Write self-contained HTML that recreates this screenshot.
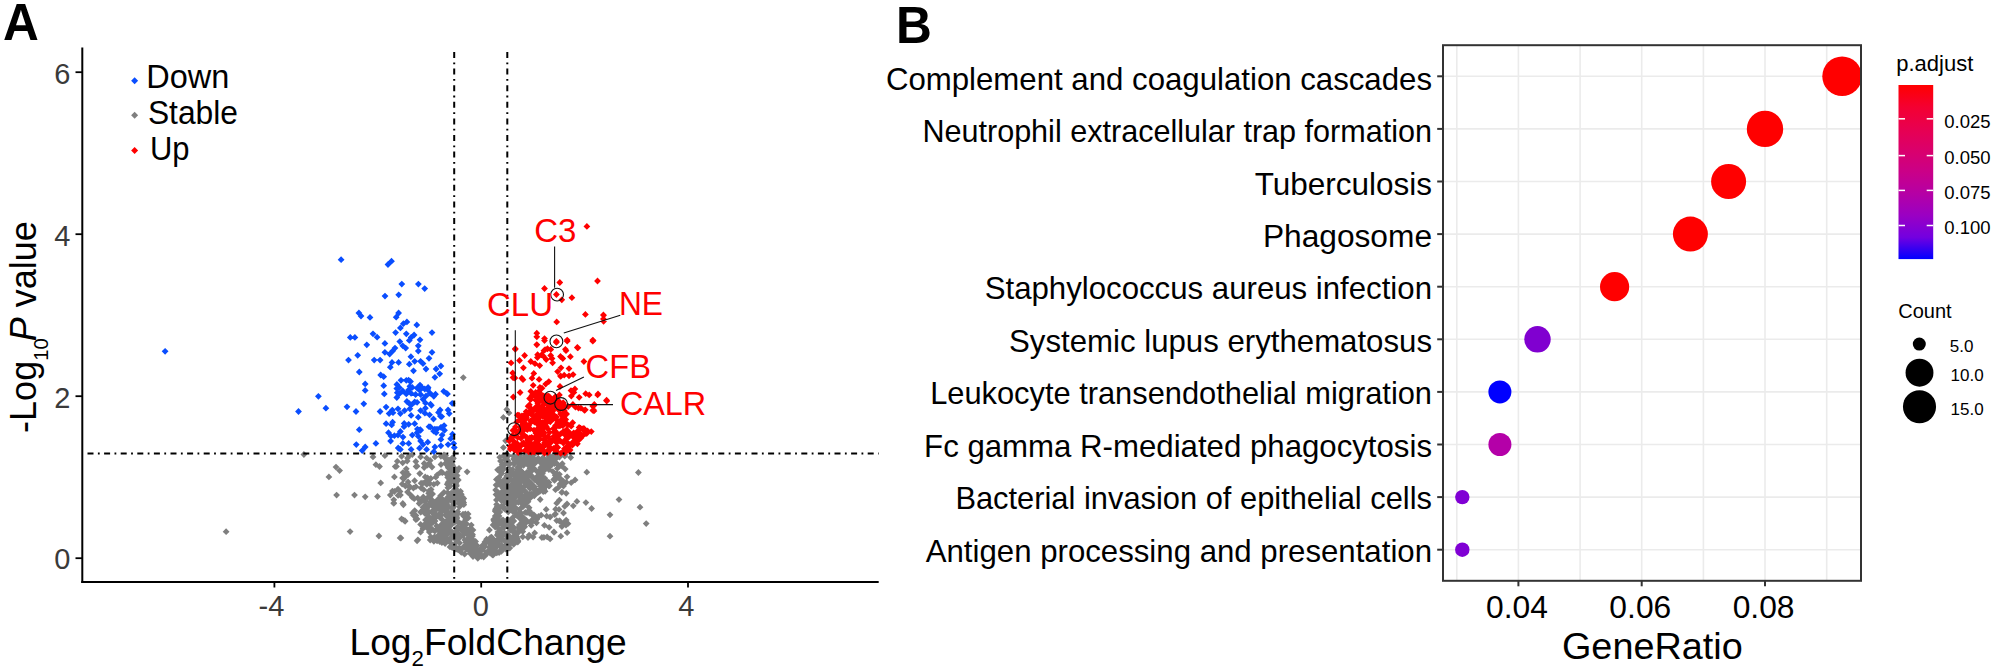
<!DOCTYPE html>
<html><head><meta charset="utf-8"><style>
html,body{margin:0;padding:0;background:#fff;overflow:hidden;}
svg{display:block;}
text{font-family:"Liberation Sans", sans-serif;}
</style></head><body>
<svg width="1996" height="671" viewBox="0 0 1996 671">
<rect width="1996" height="671" fill="#fff"/>
<text transform="translate(3.00,40.00) scale(0.9550,1)" font-size="52" text-anchor="start" fill="#000" font-weight="bold" >A</text>
<text transform="translate(896.00,43.00) scale(0.9550,1)" font-size="52" text-anchor="start" fill="#000" font-weight="bold" >B</text>
<g stroke="#000" fill="none">
<line x1="82.3" y1="47.5" x2="82.3" y2="583" stroke-width="2"/>
<line x1="81.3" y1="582" x2="878.7" y2="582" stroke-width="2"/>
<line x1="75.5" y1="558.2" x2="82" y2="558.2" stroke-width="1.8"/>
<line x1="75.5" y1="396.2" x2="82" y2="396.2" stroke-width="1.8"/>
<line x1="75.5" y1="234.2" x2="82" y2="234.2" stroke-width="1.8"/>
<line x1="75.5" y1="72.2" x2="82" y2="72.2" stroke-width="1.8"/>
<line x1="274.4" y1="582" x2="274.4" y2="587.5" stroke-width="1.8"/>
<line x1="481.2" y1="582" x2="481.2" y2="587.5" stroke-width="1.8"/>
<line x1="688.0" y1="582" x2="688.0" y2="587.5" stroke-width="1.8"/>
</g>
<path d="M226.1 528.3l3.4 3.4l-3.4 3.4l-3.4-3.4zM303.9 451.1l3.4 3.4l-3.4 3.4l-3.4-3.4zM336.0 463.7l3.4 3.4l-3.4 3.4l-3.4-3.4zM339.6 467.2l3.4 3.4l-3.4 3.4l-3.4-3.4zM328.9 473.5l3.4 3.4l-3.4 3.4l-3.4-3.4zM336.6 491.7l3.4 3.4l-3.4 3.4l-3.4-3.4zM354.5 491.7l3.4 3.4l-3.4 3.4l-3.4-3.4zM365.2 493.4l3.4 3.4l-3.4 3.4l-3.4-3.4zM377.5 493.1l3.4 3.4l-3.4 3.4l-3.4-3.4zM373.0 453.5l3.4 3.4l-3.4 3.4l-3.4-3.4zM384.9 452.3l3.4 3.4l-3.4 3.4l-3.4-3.4zM375.9 461.3l3.4 3.4l-3.4 3.4l-3.4-3.4zM379.5 463.1l3.4 3.4l-3.4 3.4l-3.4-3.4zM394.4 473.5l3.4 3.4l-3.4 3.4l-3.4-3.4zM380.7 479.5l3.4 3.4l-3.4 3.4l-3.4-3.4zM407.5 454.7l3.4 3.4l-3.4 3.4l-3.4-3.4zM409.3 452.3l3.4 3.4l-3.4 3.4l-3.4-3.4zM412.3 451.1l3.4 3.4l-3.4 3.4l-3.4-3.4zM417.1 462.8l3.4 3.4l-3.4 3.4l-3.4-3.4zM420.0 470.2l3.4 3.4l-3.4 3.4l-3.4-3.4zM406.3 468.4l3.4 3.4l-3.4 3.4l-3.4-3.4zM405.1 473.8l3.4 3.4l-3.4 3.4l-3.4-3.4zM408.1 478.5l3.4 3.4l-3.4 3.4l-3.4-3.4zM409.9 483.3l3.4 3.4l-3.4 3.4l-3.4-3.4zM407.5 488.7l3.4 3.4l-3.4 3.4l-3.4-3.4zM398.0 485.7l3.4 3.4l-3.4 3.4l-3.4-3.4zM394.4 488.1l3.4 3.4l-3.4 3.4l-3.4-3.4zM400.4 491.7l3.4 3.4l-3.4 3.4l-3.4-3.4zM390.3 491.7l3.4 3.4l-3.4 3.4l-3.4-3.4zM393.8 496.4l3.4 3.4l-3.4 3.4l-3.4-3.4zM393.8 500.0l3.4 3.4l-3.4 3.4l-3.4-3.4zM402.8 500.0l3.4 3.4l-3.4 3.4l-3.4-3.4zM412.3 494.0l3.4 3.4l-3.4 3.4l-3.4-3.4zM417.7 494.6l3.4 3.4l-3.4 3.4l-3.4-3.4zM421.8 497.6l3.4 3.4l-3.4 3.4l-3.4-3.4zM427.8 494.0l3.4 3.4l-3.4 3.4l-3.4-3.4zM432.6 490.5l3.4 3.4l-3.4 3.4l-3.4-3.4zM429.0 487.5l3.4 3.4l-3.4 3.4l-3.4-3.4zM414.7 507.2l3.4 3.4l-3.4 3.4l-3.4-3.4zM413.5 511.9l3.4 3.4l-3.4 3.4l-3.4-3.4zM417.1 515.5l3.4 3.4l-3.4 3.4l-3.4-3.4zM401.6 515.5l3.4 3.4l-3.4 3.4l-3.4-3.4zM405.1 517.9l3.4 3.4l-3.4 3.4l-3.4-3.4zM420.6 453.5l3.4 3.4l-3.4 3.4l-3.4-3.4zM426.6 454.7l3.4 3.4l-3.4 3.4l-3.4-3.4zM430.2 457.1l3.4 3.4l-3.4 3.4l-3.4-3.4zM425.4 461.9l3.4 3.4l-3.4 3.4l-3.4-3.4zM424.2 464.2l3.4 3.4l-3.4 3.4l-3.4-3.4zM415.9 483.3l3.4 3.4l-3.4 3.4l-3.4-3.4zM423.0 479.7l3.4 3.4l-3.4 3.4l-3.4-3.4zM426.6 477.4l3.4 3.4l-3.4 3.4l-3.4-3.4zM430.8 475.0l3.4 3.4l-3.4 3.4l-3.4-3.4zM433.8 480.9l3.4 3.4l-3.4 3.4l-3.4-3.4zM437.3 479.7l3.4 3.4l-3.4 3.4l-3.4-3.4zM437.3 471.4l3.4 3.4l-3.4 3.4l-3.4-3.4zM440.9 469.0l3.4 3.4l-3.4 3.4l-3.4-3.4zM434.9 453.5l3.4 3.4l-3.4 3.4l-3.4-3.4zM440.9 452.9l3.4 3.4l-3.4 3.4l-3.4-3.4zM446.9 457.1l3.4 3.4l-3.4 3.4l-3.4-3.4zM449.2 460.7l3.4 3.4l-3.4 3.4l-3.4-3.4zM350.1 528.2l3.4 3.4l-3.4 3.4l-3.4-3.4zM378.9 532.6l3.4 3.4l-3.4 3.4l-3.4-3.4zM400.1 534.5l3.4 3.4l-3.4 3.4l-3.4-3.4zM417.1 537.4l3.4 3.4l-3.4 3.4l-3.4-3.4zM401.6 515.7l3.4 3.4l-3.4 3.4l-3.4-3.4zM405.1 517.5l3.4 3.4l-3.4 3.4l-3.4-3.4zM414.1 507.9l3.4 3.4l-3.4 3.4l-3.4-3.4zM415.9 512.1l3.4 3.4l-3.4 3.4l-3.4-3.4zM415.9 516.3l3.4 3.4l-3.4 3.4l-3.4-3.4zM420.6 521.0l3.4 3.4l-3.4 3.4l-3.4-3.4zM423.0 525.2l3.4 3.4l-3.4 3.4l-3.4-3.4zM420.6 528.8l3.4 3.4l-3.4 3.4l-3.4-3.4zM393.8 499.6l3.4 3.4l-3.4 3.4l-3.4-3.4zM403.4 501.4l3.4 3.4l-3.4 3.4l-3.4-3.4zM586.8 468.8l3.4 3.4l-3.4 3.4l-3.4-3.4zM567.1 473.4l3.4 3.4l-3.4 3.4l-3.4-3.4zM575.1 476.5l3.4 3.4l-3.4 3.4l-3.4-3.4zM559.0 474.7l3.4 3.4l-3.4 3.4l-3.4-3.4zM561.7 479.2l3.4 3.4l-3.4 3.4l-3.4-3.4zM563.5 482.7l3.4 3.4l-3.4 3.4l-3.4-3.4zM566.2 489.9l3.4 3.4l-3.4 3.4l-3.4-3.4zM561.7 489.0l3.4 3.4l-3.4 3.4l-3.4-3.4zM555.5 486.3l3.4 3.4l-3.4 3.4l-3.4-3.4zM567.1 500.6l3.4 3.4l-3.4 3.4l-3.4-3.4zM573.3 502.4l3.4 3.4l-3.4 3.4l-3.4-3.4zM576.9 498.0l3.4 3.4l-3.4 3.4l-3.4-3.4zM585.9 499.2l3.4 3.4l-3.4 3.4l-3.4-3.4zM591.6 505.1l3.4 3.4l-3.4 3.4l-3.4-3.4zM610.0 511.4l3.4 3.4l-3.4 3.4l-3.4-3.4zM619.0 496.2l3.4 3.4l-3.4 3.4l-3.4-3.4zM559.0 506.0l3.4 3.4l-3.4 3.4l-3.4-3.4zM563.5 509.6l3.4 3.4l-3.4 3.4l-3.4-3.4zM559.9 517.6l3.4 3.4l-3.4 3.4l-3.4-3.4zM566.2 516.7l3.4 3.4l-3.4 3.4l-3.4-3.4zM568.0 520.3l3.4 3.4l-3.4 3.4l-3.4-3.4zM549.2 523.9l3.4 3.4l-3.4 3.4l-3.4-3.4zM550.1 535.5l3.4 3.4l-3.4 3.4l-3.4-3.4zM560.8 532.8l3.4 3.4l-3.4 3.4l-3.4-3.4zM567.1 529.3l3.4 3.4l-3.4 3.4l-3.4-3.4zM610.0 532.8l3.4 3.4l-3.4 3.4l-3.4-3.4zM570.7 454.1l3.4 3.4l-3.4 3.4l-3.4-3.4zM565.3 451.4l3.4 3.4l-3.4 3.4l-3.4-3.4zM467.1 468.4l3.4 3.4l-3.4 3.4l-3.4-3.4zM459.0 464.9l3.4 3.4l-3.4 3.4l-3.4-3.4zM407.2 457.7l3.4 3.4l-3.4 3.4l-3.4-3.4zM416.1 463.1l3.4 3.4l-3.4 3.4l-3.4-3.4zM419.7 470.2l3.4 3.4l-3.4 3.4l-3.4-3.4zM403.6 475.6l3.4 3.4l-3.4 3.4l-3.4-3.4zM405.4 482.7l3.4 3.4l-3.4 3.4l-3.4-3.4zM410.7 491.7l3.4 3.4l-3.4 3.4l-3.4-3.4zM414.3 495.3l3.4 3.4l-3.4 3.4l-3.4-3.4zM423.3 493.5l3.4 3.4l-3.4 3.4l-3.4-3.4zM428.6 489.9l3.4 3.4l-3.4 3.4l-3.4-3.4zM412.5 509.6l3.4 3.4l-3.4 3.4l-3.4-3.4zM416.1 514.9l3.4 3.4l-3.4 3.4l-3.4-3.4zM403.6 516.7l3.4 3.4l-3.4 3.4l-3.4-3.4zM417.9 536.4l3.4 3.4l-3.4 3.4l-3.4-3.4zM400.9 534.6l3.4 3.4l-3.4 3.4l-3.4-3.4zM426.8 481.0l3.4 3.4l-3.4 3.4l-3.4-3.4zM435.8 473.8l3.4 3.4l-3.4 3.4l-3.4-3.4zM441.1 468.4l3.4 3.4l-3.4 3.4l-3.4-3.4zM638.4 469.1l3.4 3.4l-3.4 3.4l-3.4-3.4zM640.0 503.8l3.4 3.4l-3.4 3.4l-3.4-3.4zM646.2 520.2l3.4 3.4l-3.4 3.4l-3.4-3.4zM506.8 406.1l3.4 3.4l-3.4 3.4l-3.4-3.4zM509.0 409.5l3.4 3.4l-3.4 3.4l-3.4-3.4zM503.4 414.0l3.4 3.4l-3.4 3.4l-3.4-3.4zM505.6 437.4l3.4 3.4l-3.4 3.4l-3.4-3.4zM503.4 444.2l3.4 3.4l-3.4 3.4l-3.4-3.4zM463.3 374.2l3.4 3.4l-3.4 3.4l-3.4-3.4zM515.9 458.7l3.4 3.4l-3.4 3.4l-3.4-3.4zM498.7 489.4l3.4 3.4l-3.4 3.4l-3.4-3.4zM427.4 504.2l3.4 3.4l-3.4 3.4l-3.4-3.4zM504.9 492.6l3.4 3.4l-3.4 3.4l-3.4-3.4zM546.9 481.4l3.4 3.4l-3.4 3.4l-3.4-3.4zM464.8 536.5l3.4 3.4l-3.4 3.4l-3.4-3.4zM445.7 511.9l3.4 3.4l-3.4 3.4l-3.4-3.4zM514.1 490.1l3.4 3.4l-3.4 3.4l-3.4-3.4zM500.5 457.7l3.4 3.4l-3.4 3.4l-3.4-3.4zM520.3 495.8l3.4 3.4l-3.4 3.4l-3.4-3.4zM465.6 512.3l3.4 3.4l-3.4 3.4l-3.4-3.4zM455.1 511.2l3.4 3.4l-3.4 3.4l-3.4-3.4zM497.1 542.6l3.4 3.4l-3.4 3.4l-3.4-3.4zM527.6 481.2l3.4 3.4l-3.4 3.4l-3.4-3.4zM441.4 502.2l3.4 3.4l-3.4 3.4l-3.4-3.4zM424.6 521.0l3.4 3.4l-3.4 3.4l-3.4-3.4zM532.9 511.0l3.4 3.4l-3.4 3.4l-3.4-3.4zM522.5 513.3l3.4 3.4l-3.4 3.4l-3.4-3.4zM505.3 498.8l3.4 3.4l-3.4 3.4l-3.4-3.4zM427.8 524.5l3.4 3.4l-3.4 3.4l-3.4-3.4zM541.4 480.9l3.4 3.4l-3.4 3.4l-3.4-3.4zM477.1 542.3l3.4 3.4l-3.4 3.4l-3.4-3.4zM430.7 498.1l3.4 3.4l-3.4 3.4l-3.4-3.4zM500.7 543.5l3.4 3.4l-3.4 3.4l-3.4-3.4zM460.3 494.5l3.4 3.4l-3.4 3.4l-3.4-3.4zM472.3 543.6l3.4 3.4l-3.4 3.4l-3.4-3.4zM453.5 501.8l3.4 3.4l-3.4 3.4l-3.4-3.4zM506.7 478.6l3.4 3.4l-3.4 3.4l-3.4-3.4zM495.7 515.7l3.4 3.4l-3.4 3.4l-3.4-3.4zM519.7 456.7l3.4 3.4l-3.4 3.4l-3.4-3.4zM434.2 517.4l3.4 3.4l-3.4 3.4l-3.4-3.4zM449.9 468.1l3.4 3.4l-3.4 3.4l-3.4-3.4zM510.4 466.6l3.4 3.4l-3.4 3.4l-3.4-3.4zM456.4 487.4l3.4 3.4l-3.4 3.4l-3.4-3.4zM542.4 468.0l3.4 3.4l-3.4 3.4l-3.4-3.4zM497.6 466.4l3.4 3.4l-3.4 3.4l-3.4-3.4zM499.8 453.9l3.4 3.4l-3.4 3.4l-3.4-3.4zM457.7 489.5l3.4 3.4l-3.4 3.4l-3.4-3.4zM443.6 531.8l3.4 3.4l-3.4 3.4l-3.4-3.4zM498.2 532.6l3.4 3.4l-3.4 3.4l-3.4-3.4zM452.6 505.2l3.4 3.4l-3.4 3.4l-3.4-3.4zM457.4 523.5l3.4 3.4l-3.4 3.4l-3.4-3.4zM451.6 474.8l3.4 3.4l-3.4 3.4l-3.4-3.4zM448.1 472.5l3.4 3.4l-3.4 3.4l-3.4-3.4zM516.2 534.7l3.4 3.4l-3.4 3.4l-3.4-3.4zM431.4 520.2l3.4 3.4l-3.4 3.4l-3.4-3.4zM445.4 533.6l3.4 3.4l-3.4 3.4l-3.4-3.4zM468.3 534.9l3.4 3.4l-3.4 3.4l-3.4-3.4zM478.6 550.1l3.4 3.4l-3.4 3.4l-3.4-3.4zM526.9 468.9l3.4 3.4l-3.4 3.4l-3.4-3.4zM440.5 537.6l3.4 3.4l-3.4 3.4l-3.4-3.4zM497.3 548.8l3.4 3.4l-3.4 3.4l-3.4-3.4zM483.5 542.3l3.4 3.4l-3.4 3.4l-3.4-3.4zM542.0 473.2l3.4 3.4l-3.4 3.4l-3.4-3.4zM456.3 481.7l3.4 3.4l-3.4 3.4l-3.4-3.4zM454.6 512.4l3.4 3.4l-3.4 3.4l-3.4-3.4zM457.4 494.9l3.4 3.4l-3.4 3.4l-3.4-3.4zM505.8 545.7l3.4 3.4l-3.4 3.4l-3.4-3.4zM481.5 547.1l3.4 3.4l-3.4 3.4l-3.4-3.4zM444.4 500.6l3.4 3.4l-3.4 3.4l-3.4-3.4zM527.0 509.3l3.4 3.4l-3.4 3.4l-3.4-3.4zM501.6 533.1l3.4 3.4l-3.4 3.4l-3.4-3.4zM434.5 509.7l3.4 3.4l-3.4 3.4l-3.4-3.4zM455.8 480.1l3.4 3.4l-3.4 3.4l-3.4-3.4zM502.6 530.6l3.4 3.4l-3.4 3.4l-3.4-3.4zM510.2 504.0l3.4 3.4l-3.4 3.4l-3.4-3.4zM495.2 523.6l3.4 3.4l-3.4 3.4l-3.4-3.4zM490.1 549.6l3.4 3.4l-3.4 3.4l-3.4-3.4zM544.1 465.4l3.4 3.4l-3.4 3.4l-3.4-3.4zM436.9 497.3l3.4 3.4l-3.4 3.4l-3.4-3.4zM429.6 521.1l3.4 3.4l-3.4 3.4l-3.4-3.4zM441.8 526.0l3.4 3.4l-3.4 3.4l-3.4-3.4zM517.3 466.1l3.4 3.4l-3.4 3.4l-3.4-3.4zM442.8 496.2l3.4 3.4l-3.4 3.4l-3.4-3.4zM495.7 486.6l3.4 3.4l-3.4 3.4l-3.4-3.4zM447.9 484.4l3.4 3.4l-3.4 3.4l-3.4-3.4zM526.5 453.1l3.4 3.4l-3.4 3.4l-3.4-3.4zM501.4 497.2l3.4 3.4l-3.4 3.4l-3.4-3.4zM511.9 504.7l3.4 3.4l-3.4 3.4l-3.4-3.4zM481.7 546.4l3.4 3.4l-3.4 3.4l-3.4-3.4zM541.0 478.2l3.4 3.4l-3.4 3.4l-3.4-3.4zM503.9 524.4l3.4 3.4l-3.4 3.4l-3.4-3.4zM521.4 495.6l3.4 3.4l-3.4 3.4l-3.4-3.4zM513.4 535.0l3.4 3.4l-3.4 3.4l-3.4-3.4zM501.3 548.0l3.4 3.4l-3.4 3.4l-3.4-3.4zM497.4 476.0l3.4 3.4l-3.4 3.4l-3.4-3.4zM532.1 481.4l3.4 3.4l-3.4 3.4l-3.4-3.4zM528.1 508.7l3.4 3.4l-3.4 3.4l-3.4-3.4zM447.0 500.8l3.4 3.4l-3.4 3.4l-3.4-3.4zM492.6 538.4l3.4 3.4l-3.4 3.4l-3.4-3.4zM469.9 538.2l3.4 3.4l-3.4 3.4l-3.4-3.4zM524.2 517.6l3.4 3.4l-3.4 3.4l-3.4-3.4zM429.3 528.6l3.4 3.4l-3.4 3.4l-3.4-3.4zM456.9 468.2l3.4 3.4l-3.4 3.4l-3.4-3.4zM462.5 499.2l3.4 3.4l-3.4 3.4l-3.4-3.4zM442.2 497.7l3.4 3.4l-3.4 3.4l-3.4-3.4zM448.7 503.9l3.4 3.4l-3.4 3.4l-3.4-3.4zM506.1 506.5l3.4 3.4l-3.4 3.4l-3.4-3.4zM530.8 519.9l3.4 3.4l-3.4 3.4l-3.4-3.4zM526.8 518.4l3.4 3.4l-3.4 3.4l-3.4-3.4zM439.5 505.9l3.4 3.4l-3.4 3.4l-3.4-3.4zM494.0 538.4l3.4 3.4l-3.4 3.4l-3.4-3.4zM505.9 544.5l3.4 3.4l-3.4 3.4l-3.4-3.4zM520.7 523.6l3.4 3.4l-3.4 3.4l-3.4-3.4zM453.0 454.4l3.4 3.4l-3.4 3.4l-3.4-3.4zM502.1 516.8l3.4 3.4l-3.4 3.4l-3.4-3.4zM512.2 522.3l3.4 3.4l-3.4 3.4l-3.4-3.4zM517.1 458.0l3.4 3.4l-3.4 3.4l-3.4-3.4zM528.7 477.5l3.4 3.4l-3.4 3.4l-3.4-3.4zM527.6 472.6l3.4 3.4l-3.4 3.4l-3.4-3.4zM533.2 515.6l3.4 3.4l-3.4 3.4l-3.4-3.4zM514.7 459.2l3.4 3.4l-3.4 3.4l-3.4-3.4zM529.7 482.9l3.4 3.4l-3.4 3.4l-3.4-3.4zM503.5 452.4l3.4 3.4l-3.4 3.4l-3.4-3.4zM519.0 523.5l3.4 3.4l-3.4 3.4l-3.4-3.4zM519.6 481.5l3.4 3.4l-3.4 3.4l-3.4-3.4zM450.2 511.9l3.4 3.4l-3.4 3.4l-3.4-3.4zM439.9 505.9l3.4 3.4l-3.4 3.4l-3.4-3.4zM465.9 539.0l3.4 3.4l-3.4 3.4l-3.4-3.4zM544.0 463.7l3.4 3.4l-3.4 3.4l-3.4-3.4zM461.3 549.0l3.4 3.4l-3.4 3.4l-3.4-3.4zM455.9 478.9l3.4 3.4l-3.4 3.4l-3.4-3.4zM474.4 551.1l3.4 3.4l-3.4 3.4l-3.4-3.4zM526.1 456.3l3.4 3.4l-3.4 3.4l-3.4-3.4zM528.0 498.3l3.4 3.4l-3.4 3.4l-3.4-3.4zM531.1 518.5l3.4 3.4l-3.4 3.4l-3.4-3.4zM463.2 528.4l3.4 3.4l-3.4 3.4l-3.4-3.4zM516.6 482.6l3.4 3.4l-3.4 3.4l-3.4-3.4zM501.9 492.4l3.4 3.4l-3.4 3.4l-3.4-3.4zM454.4 478.1l3.4 3.4l-3.4 3.4l-3.4-3.4zM503.7 543.9l3.4 3.4l-3.4 3.4l-3.4-3.4zM530.6 494.3l3.4 3.4l-3.4 3.4l-3.4-3.4zM493.9 517.0l3.4 3.4l-3.4 3.4l-3.4-3.4zM549.0 453.4l3.4 3.4l-3.4 3.4l-3.4-3.4zM506.4 451.1l3.4 3.4l-3.4 3.4l-3.4-3.4zM477.2 548.0l3.4 3.4l-3.4 3.4l-3.4-3.4zM496.7 522.4l3.4 3.4l-3.4 3.4l-3.4-3.4zM515.3 531.1l3.4 3.4l-3.4 3.4l-3.4-3.4zM515.1 482.9l3.4 3.4l-3.4 3.4l-3.4-3.4zM513.7 524.2l3.4 3.4l-3.4 3.4l-3.4-3.4zM497.0 512.1l3.4 3.4l-3.4 3.4l-3.4-3.4zM508.4 452.2l3.4 3.4l-3.4 3.4l-3.4-3.4zM463.7 499.3l3.4 3.4l-3.4 3.4l-3.4-3.4zM453.8 476.9l3.4 3.4l-3.4 3.4l-3.4-3.4zM493.1 521.6l3.4 3.4l-3.4 3.4l-3.4-3.4zM452.6 454.7l3.4 3.4l-3.4 3.4l-3.4-3.4zM520.6 471.8l3.4 3.4l-3.4 3.4l-3.4-3.4zM541.1 475.2l3.4 3.4l-3.4 3.4l-3.4-3.4zM451.8 530.6l3.4 3.4l-3.4 3.4l-3.4-3.4zM452.0 494.7l3.4 3.4l-3.4 3.4l-3.4-3.4zM440.6 492.3l3.4 3.4l-3.4 3.4l-3.4-3.4zM530.1 454.4l3.4 3.4l-3.4 3.4l-3.4-3.4zM517.9 490.7l3.4 3.4l-3.4 3.4l-3.4-3.4zM444.0 451.4l3.4 3.4l-3.4 3.4l-3.4-3.4zM460.5 487.9l3.4 3.4l-3.4 3.4l-3.4-3.4zM471.9 537.0l3.4 3.4l-3.4 3.4l-3.4-3.4zM426.1 500.6l3.4 3.4l-3.4 3.4l-3.4-3.4zM474.3 547.3l3.4 3.4l-3.4 3.4l-3.4-3.4zM447.5 489.2l3.4 3.4l-3.4 3.4l-3.4-3.4zM552.6 454.3l3.4 3.4l-3.4 3.4l-3.4-3.4zM533.2 455.4l3.4 3.4l-3.4 3.4l-3.4-3.4zM457.8 526.1l3.4 3.4l-3.4 3.4l-3.4-3.4zM559.5 453.6l3.4 3.4l-3.4 3.4l-3.4-3.4zM453.6 500.8l3.4 3.4l-3.4 3.4l-3.4-3.4zM509.4 485.4l3.4 3.4l-3.4 3.4l-3.4-3.4zM535.5 459.4l3.4 3.4l-3.4 3.4l-3.4-3.4zM448.2 529.9l3.4 3.4l-3.4 3.4l-3.4-3.4zM423.8 508.9l3.4 3.4l-3.4 3.4l-3.4-3.4zM433.1 503.2l3.4 3.4l-3.4 3.4l-3.4-3.4zM524.7 497.9l3.4 3.4l-3.4 3.4l-3.4-3.4zM453.7 494.7l3.4 3.4l-3.4 3.4l-3.4-3.4zM511.3 521.6l3.4 3.4l-3.4 3.4l-3.4-3.4zM517.9 463.8l3.4 3.4l-3.4 3.4l-3.4-3.4zM544.2 481.8l3.4 3.4l-3.4 3.4l-3.4-3.4zM503.3 490.1l3.4 3.4l-3.4 3.4l-3.4-3.4zM528.9 471.9l3.4 3.4l-3.4 3.4l-3.4-3.4zM455.6 476.8l3.4 3.4l-3.4 3.4l-3.4-3.4zM505.0 485.2l3.4 3.4l-3.4 3.4l-3.4-3.4zM477.8 554.9l3.4 3.4l-3.4 3.4l-3.4-3.4zM489.6 536.8l3.4 3.4l-3.4 3.4l-3.4-3.4zM457.5 532.5l3.4 3.4l-3.4 3.4l-3.4-3.4zM507.7 515.9l3.4 3.4l-3.4 3.4l-3.4-3.4zM451.2 489.7l3.4 3.4l-3.4 3.4l-3.4-3.4zM456.8 513.8l3.4 3.4l-3.4 3.4l-3.4-3.4zM516.0 472.4l3.4 3.4l-3.4 3.4l-3.4-3.4zM520.0 470.5l3.4 3.4l-3.4 3.4l-3.4-3.4zM514.1 460.6l3.4 3.4l-3.4 3.4l-3.4-3.4zM443.1 523.8l3.4 3.4l-3.4 3.4l-3.4-3.4zM464.6 550.8l3.4 3.4l-3.4 3.4l-3.4-3.4zM465.3 510.4l3.4 3.4l-3.4 3.4l-3.4-3.4zM527.4 472.4l3.4 3.4l-3.4 3.4l-3.4-3.4zM420.9 508.8l3.4 3.4l-3.4 3.4l-3.4-3.4zM432.0 516.2l3.4 3.4l-3.4 3.4l-3.4-3.4zM496.5 547.9l3.4 3.4l-3.4 3.4l-3.4-3.4zM434.9 502.4l3.4 3.4l-3.4 3.4l-3.4-3.4zM448.2 464.3l3.4 3.4l-3.4 3.4l-3.4-3.4zM541.8 467.9l3.4 3.4l-3.4 3.4l-3.4-3.4zM536.0 474.3l3.4 3.4l-3.4 3.4l-3.4-3.4zM542.5 470.2l3.4 3.4l-3.4 3.4l-3.4-3.4zM451.3 492.9l3.4 3.4l-3.4 3.4l-3.4-3.4zM496.0 491.2l3.4 3.4l-3.4 3.4l-3.4-3.4zM424.8 509.9l3.4 3.4l-3.4 3.4l-3.4-3.4zM531.8 455.1l3.4 3.4l-3.4 3.4l-3.4-3.4zM543.8 463.4l3.4 3.4l-3.4 3.4l-3.4-3.4zM508.2 508.6l3.4 3.4l-3.4 3.4l-3.4-3.4zM512.3 483.1l3.4 3.4l-3.4 3.4l-3.4-3.4zM437.9 496.1l3.4 3.4l-3.4 3.4l-3.4-3.4zM432.4 497.3l3.4 3.4l-3.4 3.4l-3.4-3.4zM513.7 459.7l3.4 3.4l-3.4 3.4l-3.4-3.4zM492.1 551.2l3.4 3.4l-3.4 3.4l-3.4-3.4zM531.6 467.7l3.4 3.4l-3.4 3.4l-3.4-3.4zM540.5 466.1l3.4 3.4l-3.4 3.4l-3.4-3.4zM493.7 547.3l3.4 3.4l-3.4 3.4l-3.4-3.4zM449.8 478.6l3.4 3.4l-3.4 3.4l-3.4-3.4zM443.9 533.2l3.4 3.4l-3.4 3.4l-3.4-3.4zM435.9 506.6l3.4 3.4l-3.4 3.4l-3.4-3.4zM513.7 488.7l3.4 3.4l-3.4 3.4l-3.4-3.4zM505.3 543.4l3.4 3.4l-3.4 3.4l-3.4-3.4zM512.7 492.3l3.4 3.4l-3.4 3.4l-3.4-3.4zM537.8 478.8l3.4 3.4l-3.4 3.4l-3.4-3.4zM472.5 531.1l3.4 3.4l-3.4 3.4l-3.4-3.4zM529.7 456.2l3.4 3.4l-3.4 3.4l-3.4-3.4zM541.1 477.6l3.4 3.4l-3.4 3.4l-3.4-3.4zM506.2 520.5l3.4 3.4l-3.4 3.4l-3.4-3.4zM510.7 496.3l3.4 3.4l-3.4 3.4l-3.4-3.4zM495.2 544.8l3.4 3.4l-3.4 3.4l-3.4-3.4zM516.2 453.4l3.4 3.4l-3.4 3.4l-3.4-3.4zM452.2 512.1l3.4 3.4l-3.4 3.4l-3.4-3.4zM506.7 472.5l3.4 3.4l-3.4 3.4l-3.4-3.4zM511.9 500.8l3.4 3.4l-3.4 3.4l-3.4-3.4zM455.1 466.7l3.4 3.4l-3.4 3.4l-3.4-3.4zM433.0 517.9l3.4 3.4l-3.4 3.4l-3.4-3.4zM502.7 487.7l3.4 3.4l-3.4 3.4l-3.4-3.4zM515.1 497.5l3.4 3.4l-3.4 3.4l-3.4-3.4zM455.8 545.6l3.4 3.4l-3.4 3.4l-3.4-3.4zM425.3 506.7l3.4 3.4l-3.4 3.4l-3.4-3.4zM420.5 508.7l3.4 3.4l-3.4 3.4l-3.4-3.4zM448.5 514.7l3.4 3.4l-3.4 3.4l-3.4-3.4zM494.4 518.2l3.4 3.4l-3.4 3.4l-3.4-3.4zM540.1 469.4l3.4 3.4l-3.4 3.4l-3.4-3.4zM452.4 462.1l3.4 3.4l-3.4 3.4l-3.4-3.4zM453.4 455.2l3.4 3.4l-3.4 3.4l-3.4-3.4zM468.8 529.5l3.4 3.4l-3.4 3.4l-3.4-3.4zM525.0 478.9l3.4 3.4l-3.4 3.4l-3.4-3.4zM501.4 496.7l3.4 3.4l-3.4 3.4l-3.4-3.4zM458.3 518.3l3.4 3.4l-3.4 3.4l-3.4-3.4zM550.1 452.7l3.4 3.4l-3.4 3.4l-3.4-3.4zM457.6 475.8l3.4 3.4l-3.4 3.4l-3.4-3.4zM530.1 485.3l3.4 3.4l-3.4 3.4l-3.4-3.4zM512.9 523.6l3.4 3.4l-3.4 3.4l-3.4-3.4zM488.8 538.9l3.4 3.4l-3.4 3.4l-3.4-3.4zM503.9 483.3l3.4 3.4l-3.4 3.4l-3.4-3.4zM450.3 516.2l3.4 3.4l-3.4 3.4l-3.4-3.4zM522.1 517.4l3.4 3.4l-3.4 3.4l-3.4-3.4zM522.8 528.2l3.4 3.4l-3.4 3.4l-3.4-3.4zM428.5 512.9l3.4 3.4l-3.4 3.4l-3.4-3.4zM473.0 536.6l3.4 3.4l-3.4 3.4l-3.4-3.4zM513.4 537.4l3.4 3.4l-3.4 3.4l-3.4-3.4zM513.0 481.2l3.4 3.4l-3.4 3.4l-3.4-3.4zM531.8 472.5l3.4 3.4l-3.4 3.4l-3.4-3.4zM460.9 526.0l3.4 3.4l-3.4 3.4l-3.4-3.4zM470.5 524.8l3.4 3.4l-3.4 3.4l-3.4-3.4zM499.0 473.8l3.4 3.4l-3.4 3.4l-3.4-3.4zM547.4 460.6l3.4 3.4l-3.4 3.4l-3.4-3.4zM541.1 468.9l3.4 3.4l-3.4 3.4l-3.4-3.4zM492.1 534.4l3.4 3.4l-3.4 3.4l-3.4-3.4zM446.2 502.8l3.4 3.4l-3.4 3.4l-3.4-3.4zM470.5 538.1l3.4 3.4l-3.4 3.4l-3.4-3.4zM523.1 503.2l3.4 3.4l-3.4 3.4l-3.4-3.4zM435.1 517.7l3.4 3.4l-3.4 3.4l-3.4-3.4zM430.8 533.5l3.4 3.4l-3.4 3.4l-3.4-3.4zM522.8 533.4l3.4 3.4l-3.4 3.4l-3.4-3.4zM512.5 488.3l3.4 3.4l-3.4 3.4l-3.4-3.4zM551.6 460.1l3.4 3.4l-3.4 3.4l-3.4-3.4zM551.3 453.7l3.4 3.4l-3.4 3.4l-3.4-3.4zM449.5 478.6l3.4 3.4l-3.4 3.4l-3.4-3.4zM475.3 543.6l3.4 3.4l-3.4 3.4l-3.4-3.4zM453.6 499.3l3.4 3.4l-3.4 3.4l-3.4-3.4zM498.1 530.0l3.4 3.4l-3.4 3.4l-3.4-3.4zM531.1 518.7l3.4 3.4l-3.4 3.4l-3.4-3.4zM441.9 539.3l3.4 3.4l-3.4 3.4l-3.4-3.4zM517.6 528.7l3.4 3.4l-3.4 3.4l-3.4-3.4zM444.0 497.0l3.4 3.4l-3.4 3.4l-3.4-3.4zM534.2 511.7l3.4 3.4l-3.4 3.4l-3.4-3.4zM437.5 499.4l3.4 3.4l-3.4 3.4l-3.4-3.4zM455.7 485.3l3.4 3.4l-3.4 3.4l-3.4-3.4zM528.2 496.6l3.4 3.4l-3.4 3.4l-3.4-3.4zM448.0 517.8l3.4 3.4l-3.4 3.4l-3.4-3.4zM522.2 503.5l3.4 3.4l-3.4 3.4l-3.4-3.4zM513.1 499.6l3.4 3.4l-3.4 3.4l-3.4-3.4zM439.9 514.2l3.4 3.4l-3.4 3.4l-3.4-3.4zM504.4 529.5l3.4 3.4l-3.4 3.4l-3.4-3.4zM514.5 498.6l3.4 3.4l-3.4 3.4l-3.4-3.4zM465.4 516.8l3.4 3.4l-3.4 3.4l-3.4-3.4zM512.7 477.3l3.4 3.4l-3.4 3.4l-3.4-3.4zM511.5 493.9l3.4 3.4l-3.4 3.4l-3.4-3.4zM446.0 519.6l3.4 3.4l-3.4 3.4l-3.4-3.4zM534.9 491.8l3.4 3.4l-3.4 3.4l-3.4-3.4zM424.4 507.9l3.4 3.4l-3.4 3.4l-3.4-3.4zM442.7 532.9l3.4 3.4l-3.4 3.4l-3.4-3.4zM433.8 511.2l3.4 3.4l-3.4 3.4l-3.4-3.4zM499.5 526.1l3.4 3.4l-3.4 3.4l-3.4-3.4zM495.2 518.0l3.4 3.4l-3.4 3.4l-3.4-3.4zM480.0 550.3l3.4 3.4l-3.4 3.4l-3.4-3.4zM450.1 522.7l3.4 3.4l-3.4 3.4l-3.4-3.4zM459.7 492.9l3.4 3.4l-3.4 3.4l-3.4-3.4zM452.2 528.7l3.4 3.4l-3.4 3.4l-3.4-3.4zM451.4 534.9l3.4 3.4l-3.4 3.4l-3.4-3.4zM438.0 532.3l3.4 3.4l-3.4 3.4l-3.4-3.4zM500.6 464.2l3.4 3.4l-3.4 3.4l-3.4-3.4zM543.2 488.2l3.4 3.4l-3.4 3.4l-3.4-3.4zM545.7 479.1l3.4 3.4l-3.4 3.4l-3.4-3.4zM463.8 501.3l3.4 3.4l-3.4 3.4l-3.4-3.4zM517.1 489.0l3.4 3.4l-3.4 3.4l-3.4-3.4zM439.7 538.1l3.4 3.4l-3.4 3.4l-3.4-3.4zM513.2 452.7l3.4 3.4l-3.4 3.4l-3.4-3.4zM516.6 477.3l3.4 3.4l-3.4 3.4l-3.4-3.4zM453.6 532.3l3.4 3.4l-3.4 3.4l-3.4-3.4zM509.5 532.8l3.4 3.4l-3.4 3.4l-3.4-3.4zM448.2 523.6l3.4 3.4l-3.4 3.4l-3.4-3.4zM497.9 528.7l3.4 3.4l-3.4 3.4l-3.4-3.4zM484.2 543.4l3.4 3.4l-3.4 3.4l-3.4-3.4zM501.6 478.8l3.4 3.4l-3.4 3.4l-3.4-3.4zM453.7 465.7l3.4 3.4l-3.4 3.4l-3.4-3.4zM499.3 541.4l3.4 3.4l-3.4 3.4l-3.4-3.4zM513.8 517.6l3.4 3.4l-3.4 3.4l-3.4-3.4zM552.7 454.6l3.4 3.4l-3.4 3.4l-3.4-3.4zM525.9 516.5l3.4 3.4l-3.4 3.4l-3.4-3.4zM469.3 541.2l3.4 3.4l-3.4 3.4l-3.4-3.4zM497.2 531.7l3.4 3.4l-3.4 3.4l-3.4-3.4zM450.2 496.6l3.4 3.4l-3.4 3.4l-3.4-3.4zM542.1 481.7l3.4 3.4l-3.4 3.4l-3.4-3.4zM516.4 533.9l3.4 3.4l-3.4 3.4l-3.4-3.4zM463.4 512.4l3.4 3.4l-3.4 3.4l-3.4-3.4zM513.5 533.1l3.4 3.4l-3.4 3.4l-3.4-3.4zM516.9 533.6l3.4 3.4l-3.4 3.4l-3.4-3.4zM510.8 516.7l3.4 3.4l-3.4 3.4l-3.4-3.4zM522.7 513.5l3.4 3.4l-3.4 3.4l-3.4-3.4zM520.4 473.3l3.4 3.4l-3.4 3.4l-3.4-3.4zM518.3 499.0l3.4 3.4l-3.4 3.4l-3.4-3.4zM532.6 461.7l3.4 3.4l-3.4 3.4l-3.4-3.4zM445.8 455.0l3.4 3.4l-3.4 3.4l-3.4-3.4zM516.6 489.7l3.4 3.4l-3.4 3.4l-3.4-3.4zM502.6 478.1l3.4 3.4l-3.4 3.4l-3.4-3.4zM463.8 495.2l3.4 3.4l-3.4 3.4l-3.4-3.4zM426.9 510.5l3.4 3.4l-3.4 3.4l-3.4-3.4zM514.9 473.3l3.4 3.4l-3.4 3.4l-3.4-3.4zM526.1 476.4l3.4 3.4l-3.4 3.4l-3.4-3.4zM528.2 470.7l3.4 3.4l-3.4 3.4l-3.4-3.4zM527.6 459.9l3.4 3.4l-3.4 3.4l-3.4-3.4zM512.6 525.3l3.4 3.4l-3.4 3.4l-3.4-3.4zM487.5 548.6l3.4 3.4l-3.4 3.4l-3.4-3.4zM525.8 452.3l3.4 3.4l-3.4 3.4l-3.4-3.4zM540.7 459.4l3.4 3.4l-3.4 3.4l-3.4-3.4zM465.1 527.4l3.4 3.4l-3.4 3.4l-3.4-3.4zM440.3 534.5l3.4 3.4l-3.4 3.4l-3.4-3.4zM512.7 494.8l3.4 3.4l-3.4 3.4l-3.4-3.4zM503.3 481.7l3.4 3.4l-3.4 3.4l-3.4-3.4zM468.3 514.5l3.4 3.4l-3.4 3.4l-3.4-3.4zM508.4 483.4l3.4 3.4l-3.4 3.4l-3.4-3.4zM482.7 544.0l3.4 3.4l-3.4 3.4l-3.4-3.4zM508.5 544.8l3.4 3.4l-3.4 3.4l-3.4-3.4zM539.3 480.7l3.4 3.4l-3.4 3.4l-3.4-3.4zM504.1 479.7l3.4 3.4l-3.4 3.4l-3.4-3.4zM501.4 534.5l3.4 3.4l-3.4 3.4l-3.4-3.4zM448.6 529.6l3.4 3.4l-3.4 3.4l-3.4-3.4zM509.3 522.0l3.4 3.4l-3.4 3.4l-3.4-3.4zM456.7 529.7l3.4 3.4l-3.4 3.4l-3.4-3.4zM431.8 535.5l3.4 3.4l-3.4 3.4l-3.4-3.4zM534.0 475.5l3.4 3.4l-3.4 3.4l-3.4-3.4zM505.2 544.9l3.4 3.4l-3.4 3.4l-3.4-3.4zM446.9 471.2l3.4 3.4l-3.4 3.4l-3.4-3.4zM445.7 524.4l3.4 3.4l-3.4 3.4l-3.4-3.4zM434.5 517.3l3.4 3.4l-3.4 3.4l-3.4-3.4zM536.3 467.4l3.4 3.4l-3.4 3.4l-3.4-3.4zM507.9 487.2l3.4 3.4l-3.4 3.4l-3.4-3.4zM503.4 478.5l3.4 3.4l-3.4 3.4l-3.4-3.4zM448.7 470.0l3.4 3.4l-3.4 3.4l-3.4-3.4zM501.9 542.2l3.4 3.4l-3.4 3.4l-3.4-3.4zM487.1 550.2l3.4 3.4l-3.4 3.4l-3.4-3.4zM554.6 457.8l3.4 3.4l-3.4 3.4l-3.4-3.4zM508.0 492.7l3.4 3.4l-3.4 3.4l-3.4-3.4zM457.1 510.1l3.4 3.4l-3.4 3.4l-3.4-3.4zM518.7 492.2l3.4 3.4l-3.4 3.4l-3.4-3.4zM451.8 455.1l3.4 3.4l-3.4 3.4l-3.4-3.4zM456.9 487.9l3.4 3.4l-3.4 3.4l-3.4-3.4zM543.7 456.0l3.4 3.4l-3.4 3.4l-3.4-3.4zM519.8 482.4l3.4 3.4l-3.4 3.4l-3.4-3.4zM507.0 530.4l3.4 3.4l-3.4 3.4l-3.4-3.4zM454.3 466.1l3.4 3.4l-3.4 3.4l-3.4-3.4zM519.9 452.4l3.4 3.4l-3.4 3.4l-3.4-3.4zM525.8 471.5l3.4 3.4l-3.4 3.4l-3.4-3.4zM439.6 497.9l3.4 3.4l-3.4 3.4l-3.4-3.4zM512.5 466.0l3.4 3.4l-3.4 3.4l-3.4-3.4zM451.8 457.0l3.4 3.4l-3.4 3.4l-3.4-3.4zM525.3 509.0l3.4 3.4l-3.4 3.4l-3.4-3.4zM458.5 494.2l3.4 3.4l-3.4 3.4l-3.4-3.4zM544.0 486.1l3.4 3.4l-3.4 3.4l-3.4-3.4zM443.8 502.5l3.4 3.4l-3.4 3.4l-3.4-3.4zM466.2 545.6l3.4 3.4l-3.4 3.4l-3.4-3.4zM518.5 473.2l3.4 3.4l-3.4 3.4l-3.4-3.4zM457.2 472.2l3.4 3.4l-3.4 3.4l-3.4-3.4zM552.5 457.1l3.4 3.4l-3.4 3.4l-3.4-3.4zM527.2 481.8l3.4 3.4l-3.4 3.4l-3.4-3.4zM564.8 452.8l3.4 3.4l-3.4 3.4l-3.4-3.4zM539.2 486.8l3.4 3.4l-3.4 3.4l-3.4-3.4zM446.4 496.6l3.4 3.4l-3.4 3.4l-3.4-3.4zM504.0 465.5l3.4 3.4l-3.4 3.4l-3.4-3.4zM445.6 531.7l3.4 3.4l-3.4 3.4l-3.4-3.4zM524.9 471.7l3.4 3.4l-3.4 3.4l-3.4-3.4zM509.6 502.9l3.4 3.4l-3.4 3.4l-3.4-3.4zM510.1 525.1l3.4 3.4l-3.4 3.4l-3.4-3.4zM448.9 458.0l3.4 3.4l-3.4 3.4l-3.4-3.4zM528.1 493.8l3.4 3.4l-3.4 3.4l-3.4-3.4zM526.4 456.9l3.4 3.4l-3.4 3.4l-3.4-3.4zM539.7 486.2l3.4 3.4l-3.4 3.4l-3.4-3.4zM548.9 479.0l3.4 3.4l-3.4 3.4l-3.4-3.4zM446.5 538.1l3.4 3.4l-3.4 3.4l-3.4-3.4zM436.7 525.8l3.4 3.4l-3.4 3.4l-3.4-3.4zM466.6 525.5l3.4 3.4l-3.4 3.4l-3.4-3.4zM495.3 506.6l3.4 3.4l-3.4 3.4l-3.4-3.4zM456.1 536.6l3.4 3.4l-3.4 3.4l-3.4-3.4zM523.1 471.5l3.4 3.4l-3.4 3.4l-3.4-3.4zM504.8 505.8l3.4 3.4l-3.4 3.4l-3.4-3.4zM523.6 461.9l3.4 3.4l-3.4 3.4l-3.4-3.4zM507.1 541.2l3.4 3.4l-3.4 3.4l-3.4-3.4zM440.7 511.0l3.4 3.4l-3.4 3.4l-3.4-3.4zM530.2 468.3l3.4 3.4l-3.4 3.4l-3.4-3.4zM477.8 549.6l3.4 3.4l-3.4 3.4l-3.4-3.4zM534.7 486.5l3.4 3.4l-3.4 3.4l-3.4-3.4zM454.6 486.1l3.4 3.4l-3.4 3.4l-3.4-3.4zM483.7 553.7l3.4 3.4l-3.4 3.4l-3.4-3.4zM426.7 505.2l3.4 3.4l-3.4 3.4l-3.4-3.4zM455.9 495.3l3.4 3.4l-3.4 3.4l-3.4-3.4zM513.2 489.2l3.4 3.4l-3.4 3.4l-3.4-3.4zM550.8 454.7l3.4 3.4l-3.4 3.4l-3.4-3.4zM514.5 478.9l3.4 3.4l-3.4 3.4l-3.4-3.4zM520.0 479.7l3.4 3.4l-3.4 3.4l-3.4-3.4zM499.7 547.8l3.4 3.4l-3.4 3.4l-3.4-3.4zM511.5 477.3l3.4 3.4l-3.4 3.4l-3.4-3.4zM496.4 496.5l3.4 3.4l-3.4 3.4l-3.4-3.4zM464.3 518.8l3.4 3.4l-3.4 3.4l-3.4-3.4zM436.7 513.3l3.4 3.4l-3.4 3.4l-3.4-3.4zM458.8 499.9l3.4 3.4l-3.4 3.4l-3.4-3.4zM498.4 466.6l3.4 3.4l-3.4 3.4l-3.4-3.4zM462.5 493.6l3.4 3.4l-3.4 3.4l-3.4-3.4zM431.8 508.2l3.4 3.4l-3.4 3.4l-3.4-3.4zM503.8 519.1l3.4 3.4l-3.4 3.4l-3.4-3.4zM448.7 525.4l3.4 3.4l-3.4 3.4l-3.4-3.4zM510.2 500.2l3.4 3.4l-3.4 3.4l-3.4-3.4zM451.8 504.7l3.4 3.4l-3.4 3.4l-3.4-3.4zM501.8 502.5l3.4 3.4l-3.4 3.4l-3.4-3.4zM462.8 531.9l3.4 3.4l-3.4 3.4l-3.4-3.4zM471.3 521.7l3.4 3.4l-3.4 3.4l-3.4-3.4zM510.7 540.0l3.4 3.4l-3.4 3.4l-3.4-3.4zM548.7 451.6l3.4 3.4l-3.4 3.4l-3.4-3.4zM533.0 512.4l3.4 3.4l-3.4 3.4l-3.4-3.4zM493.0 551.8l3.4 3.4l-3.4 3.4l-3.4-3.4zM504.1 494.8l3.4 3.4l-3.4 3.4l-3.4-3.4zM509.4 490.8l3.4 3.4l-3.4 3.4l-3.4-3.4zM526.7 481.7l3.4 3.4l-3.4 3.4l-3.4-3.4zM440.3 511.3l3.4 3.4l-3.4 3.4l-3.4-3.4zM505.5 460.3l3.4 3.4l-3.4 3.4l-3.4-3.4zM482.4 546.3l3.4 3.4l-3.4 3.4l-3.4-3.4zM503.0 503.1l3.4 3.4l-3.4 3.4l-3.4-3.4zM496.0 505.2l3.4 3.4l-3.4 3.4l-3.4-3.4zM521.0 491.8l3.4 3.4l-3.4 3.4l-3.4-3.4zM471.1 550.3l3.4 3.4l-3.4 3.4l-3.4-3.4zM519.7 506.0l3.4 3.4l-3.4 3.4l-3.4-3.4zM504.4 543.1l3.4 3.4l-3.4 3.4l-3.4-3.4zM497.8 536.4l3.4 3.4l-3.4 3.4l-3.4-3.4zM446.8 470.2l3.4 3.4l-3.4 3.4l-3.4-3.4zM512.8 514.2l3.4 3.4l-3.4 3.4l-3.4-3.4zM513.7 455.5l3.4 3.4l-3.4 3.4l-3.4-3.4zM464.5 523.3l3.4 3.4l-3.4 3.4l-3.4-3.4zM518.4 471.7l3.4 3.4l-3.4 3.4l-3.4-3.4zM458.4 518.8l3.4 3.4l-3.4 3.4l-3.4-3.4zM504.5 494.1l3.4 3.4l-3.4 3.4l-3.4-3.4zM532.1 462.3l3.4 3.4l-3.4 3.4l-3.4-3.4zM496.7 537.2l3.4 3.4l-3.4 3.4l-3.4-3.4zM510.2 535.5l3.4 3.4l-3.4 3.4l-3.4-3.4zM533.7 484.9l3.4 3.4l-3.4 3.4l-3.4-3.4zM525.5 488.1l3.4 3.4l-3.4 3.4l-3.4-3.4zM505.6 487.6l3.4 3.4l-3.4 3.4l-3.4-3.4zM465.7 545.1l3.4 3.4l-3.4 3.4l-3.4-3.4zM540.5 482.9l3.4 3.4l-3.4 3.4l-3.4-3.4zM492.7 550.4l3.4 3.4l-3.4 3.4l-3.4-3.4zM455.0 491.9l3.4 3.4l-3.4 3.4l-3.4-3.4zM526.0 474.3l3.4 3.4l-3.4 3.4l-3.4-3.4zM464.9 542.7l3.4 3.4l-3.4 3.4l-3.4-3.4zM491.0 534.0l3.4 3.4l-3.4 3.4l-3.4-3.4zM455.0 469.2l3.4 3.4l-3.4 3.4l-3.4-3.4zM502.5 463.1l3.4 3.4l-3.4 3.4l-3.4-3.4zM498.4 491.4l3.4 3.4l-3.4 3.4l-3.4-3.4zM437.1 537.5l3.4 3.4l-3.4 3.4l-3.4-3.4zM447.2 480.8l3.4 3.4l-3.4 3.4l-3.4-3.4zM517.9 486.8l3.4 3.4l-3.4 3.4l-3.4-3.4zM442.0 524.9l3.4 3.4l-3.4 3.4l-3.4-3.4zM543.4 464.5l3.4 3.4l-3.4 3.4l-3.4-3.4zM484.9 538.6l3.4 3.4l-3.4 3.4l-3.4-3.4zM538.9 467.8l3.4 3.4l-3.4 3.4l-3.4-3.4zM471.4 526.7l3.4 3.4l-3.4 3.4l-3.4-3.4zM475.0 551.3l3.4 3.4l-3.4 3.4l-3.4-3.4zM524.2 478.4l3.4 3.4l-3.4 3.4l-3.4-3.4zM509.5 473.3l3.4 3.4l-3.4 3.4l-3.4-3.4zM548.9 463.9l3.4 3.4l-3.4 3.4l-3.4-3.4zM495.3 507.9l3.4 3.4l-3.4 3.4l-3.4-3.4zM459.1 531.8l3.4 3.4l-3.4 3.4l-3.4-3.4zM503.5 483.6l3.4 3.4l-3.4 3.4l-3.4-3.4zM445.1 540.1l3.4 3.4l-3.4 3.4l-3.4-3.4zM466.6 520.4l3.4 3.4l-3.4 3.4l-3.4-3.4zM435.0 509.9l3.4 3.4l-3.4 3.4l-3.4-3.4zM437.5 526.1l3.4 3.4l-3.4 3.4l-3.4-3.4zM460.9 493.3l3.4 3.4l-3.4 3.4l-3.4-3.4zM423.1 522.2l3.4 3.4l-3.4 3.4l-3.4-3.4zM517.8 487.9l3.4 3.4l-3.4 3.4l-3.4-3.4zM523.1 477.1l3.4 3.4l-3.4 3.4l-3.4-3.4zM545.1 487.9l3.4 3.4l-3.4 3.4l-3.4-3.4zM512.6 470.1l3.4 3.4l-3.4 3.4l-3.4-3.4zM514.0 469.9l3.4 3.4l-3.4 3.4l-3.4-3.4zM525.7 477.7l3.4 3.4l-3.4 3.4l-3.4-3.4zM435.3 533.9l3.4 3.4l-3.4 3.4l-3.4-3.4zM530.6 460.1l3.4 3.4l-3.4 3.4l-3.4-3.4zM522.4 492.3l3.4 3.4l-3.4 3.4l-3.4-3.4zM512.5 498.5l3.4 3.4l-3.4 3.4l-3.4-3.4zM426.8 524.1l3.4 3.4l-3.4 3.4l-3.4-3.4zM532.5 455.7l3.4 3.4l-3.4 3.4l-3.4-3.4zM457.7 508.3l3.4 3.4l-3.4 3.4l-3.4-3.4zM499.9 477.2l3.4 3.4l-3.4 3.4l-3.4-3.4zM524.3 521.2l3.4 3.4l-3.4 3.4l-3.4-3.4zM454.2 476.4l3.4 3.4l-3.4 3.4l-3.4-3.4zM463.4 543.6l3.4 3.4l-3.4 3.4l-3.4-3.4zM439.9 510.0l3.4 3.4l-3.4 3.4l-3.4-3.4zM468.5 536.4l3.4 3.4l-3.4 3.4l-3.4-3.4zM500.6 530.7l3.4 3.4l-3.4 3.4l-3.4-3.4zM444.0 520.8l3.4 3.4l-3.4 3.4l-3.4-3.4zM508.1 499.3l3.4 3.4l-3.4 3.4l-3.4-3.4zM448.1 524.5l3.4 3.4l-3.4 3.4l-3.4-3.4zM431.2 526.1l3.4 3.4l-3.4 3.4l-3.4-3.4zM434.9 502.2l3.4 3.4l-3.4 3.4l-3.4-3.4zM516.1 477.4l3.4 3.4l-3.4 3.4l-3.4-3.4zM455.4 465.6l3.4 3.4l-3.4 3.4l-3.4-3.4zM544.0 482.1l3.4 3.4l-3.4 3.4l-3.4-3.4zM446.4 517.8l3.4 3.4l-3.4 3.4l-3.4-3.4zM443.9 533.2l3.4 3.4l-3.4 3.4l-3.4-3.4zM541.9 484.6l3.4 3.4l-3.4 3.4l-3.4-3.4zM473.8 538.1l3.4 3.4l-3.4 3.4l-3.4-3.4zM503.3 516.8l3.4 3.4l-3.4 3.4l-3.4-3.4zM505.5 459.5l3.4 3.4l-3.4 3.4l-3.4-3.4zM521.4 468.2l3.4 3.4l-3.4 3.4l-3.4-3.4zM484.9 552.5l3.4 3.4l-3.4 3.4l-3.4-3.4zM526.6 451.4l3.4 3.4l-3.4 3.4l-3.4-3.4zM461.0 520.3l3.4 3.4l-3.4 3.4l-3.4-3.4zM518.1 537.5l3.4 3.4l-3.4 3.4l-3.4-3.4zM462.9 497.5l3.4 3.4l-3.4 3.4l-3.4-3.4zM502.8 487.5l3.4 3.4l-3.4 3.4l-3.4-3.4zM539.8 457.4l3.4 3.4l-3.4 3.4l-3.4-3.4zM519.7 514.8l3.4 3.4l-3.4 3.4l-3.4-3.4zM463.0 510.8l3.4 3.4l-3.4 3.4l-3.4-3.4zM515.4 482.4l3.4 3.4l-3.4 3.4l-3.4-3.4zM470.0 543.7l3.4 3.4l-3.4 3.4l-3.4-3.4zM520.0 497.9l3.4 3.4l-3.4 3.4l-3.4-3.4zM431.4 520.2l3.4 3.4l-3.4 3.4l-3.4-3.4zM503.0 492.6l3.4 3.4l-3.4 3.4l-3.4-3.4zM497.9 477.4l3.4 3.4l-3.4 3.4l-3.4-3.4zM452.5 511.0l3.4 3.4l-3.4 3.4l-3.4-3.4zM435.6 504.8l3.4 3.4l-3.4 3.4l-3.4-3.4zM506.6 459.5l3.4 3.4l-3.4 3.4l-3.4-3.4zM484.3 541.4l3.4 3.4l-3.4 3.4l-3.4-3.4zM500.9 525.8l3.4 3.4l-3.4 3.4l-3.4-3.4zM531.7 463.1l3.4 3.4l-3.4 3.4l-3.4-3.4zM433.9 537.9l3.4 3.4l-3.4 3.4l-3.4-3.4zM534.4 465.4l3.4 3.4l-3.4 3.4l-3.4-3.4zM534.6 457.1l3.4 3.4l-3.4 3.4l-3.4-3.4zM454.1 490.0l3.4 3.4l-3.4 3.4l-3.4-3.4zM450.5 482.5l3.4 3.4l-3.4 3.4l-3.4-3.4zM524.3 495.7l3.4 3.4l-3.4 3.4l-3.4-3.4zM443.8 529.1l3.4 3.4l-3.4 3.4l-3.4-3.4zM469.7 531.0l3.4 3.4l-3.4 3.4l-3.4-3.4zM526.5 455.7l3.4 3.4l-3.4 3.4l-3.4-3.4zM508.8 461.5l3.4 3.4l-3.4 3.4l-3.4-3.4zM500.6 535.1l3.4 3.4l-3.4 3.4l-3.4-3.4zM519.5 477.7l3.4 3.4l-3.4 3.4l-3.4-3.4zM447.5 497.8l3.4 3.4l-3.4 3.4l-3.4-3.4zM435.2 534.9l3.4 3.4l-3.4 3.4l-3.4-3.4zM446.4 509.1l3.4 3.4l-3.4 3.4l-3.4-3.4zM462.0 523.0l3.4 3.4l-3.4 3.4l-3.4-3.4zM560.4 452.5l3.4 3.4l-3.4 3.4l-3.4-3.4zM493.6 542.4l3.4 3.4l-3.4 3.4l-3.4-3.4zM538.2 454.8l3.4 3.4l-3.4 3.4l-3.4-3.4zM445.9 536.7l3.4 3.4l-3.4 3.4l-3.4-3.4zM520.2 492.2l3.4 3.4l-3.4 3.4l-3.4-3.4zM506.7 455.7l3.4 3.4l-3.4 3.4l-3.4-3.4zM444.0 488.9l3.4 3.4l-3.4 3.4l-3.4-3.4zM518.9 479.6l3.4 3.4l-3.4 3.4l-3.4-3.4zM459.5 503.4l3.4 3.4l-3.4 3.4l-3.4-3.4zM457.8 510.6l3.4 3.4l-3.4 3.4l-3.4-3.4zM502.4 531.7l3.4 3.4l-3.4 3.4l-3.4-3.4zM513.2 517.5l3.4 3.4l-3.4 3.4l-3.4-3.4zM464.1 530.9l3.4 3.4l-3.4 3.4l-3.4-3.4zM529.1 504.3l3.4 3.4l-3.4 3.4l-3.4-3.4zM513.5 487.8l3.4 3.4l-3.4 3.4l-3.4-3.4zM500.9 493.6l3.4 3.4l-3.4 3.4l-3.4-3.4zM455.0 475.7l3.4 3.4l-3.4 3.4l-3.4-3.4zM503.6 482.7l3.4 3.4l-3.4 3.4l-3.4-3.4zM527.2 508.8l3.4 3.4l-3.4 3.4l-3.4-3.4zM472.0 532.1l3.4 3.4l-3.4 3.4l-3.4-3.4zM482.6 541.9l3.4 3.4l-3.4 3.4l-3.4-3.4zM428.8 501.8l3.4 3.4l-3.4 3.4l-3.4-3.4zM523.9 473.9l3.4 3.4l-3.4 3.4l-3.4-3.4zM508.7 541.5l3.4 3.4l-3.4 3.4l-3.4-3.4zM515.5 471.7l3.4 3.4l-3.4 3.4l-3.4-3.4zM508.4 459.4l3.4 3.4l-3.4 3.4l-3.4-3.4zM446.8 507.3l3.4 3.4l-3.4 3.4l-3.4-3.4zM467.5 529.5l3.4 3.4l-3.4 3.4l-3.4-3.4zM515.6 493.5l3.4 3.4l-3.4 3.4l-3.4-3.4zM520.1 486.4l3.4 3.4l-3.4 3.4l-3.4-3.4zM425.5 516.6l3.4 3.4l-3.4 3.4l-3.4-3.4zM508.0 478.0l3.4 3.4l-3.4 3.4l-3.4-3.4zM510.4 526.8l3.4 3.4l-3.4 3.4l-3.4-3.4zM533.2 460.5l3.4 3.4l-3.4 3.4l-3.4-3.4zM499.1 512.7l3.4 3.4l-3.4 3.4l-3.4-3.4zM501.6 519.9l3.4 3.4l-3.4 3.4l-3.4-3.4zM508.5 485.7l3.4 3.4l-3.4 3.4l-3.4-3.4zM529.3 478.1l3.4 3.4l-3.4 3.4l-3.4-3.4zM534.6 483.4l3.4 3.4l-3.4 3.4l-3.4-3.4zM496.8 549.5l3.4 3.4l-3.4 3.4l-3.4-3.4zM534.3 489.0l3.4 3.4l-3.4 3.4l-3.4-3.4zM531.7 460.5l3.4 3.4l-3.4 3.4l-3.4-3.4zM427.7 503.6l3.4 3.4l-3.4 3.4l-3.4-3.4zM501.6 470.1l3.4 3.4l-3.4 3.4l-3.4-3.4zM534.9 476.5l3.4 3.4l-3.4 3.4l-3.4-3.4zM513.7 487.1l3.4 3.4l-3.4 3.4l-3.4-3.4zM467.0 545.6l3.4 3.4l-3.4 3.4l-3.4-3.4zM434.8 527.8l3.4 3.4l-3.4 3.4l-3.4-3.4zM428.5 518.6l3.4 3.4l-3.4 3.4l-3.4-3.4zM427.7 510.1l3.4 3.4l-3.4 3.4l-3.4-3.4zM479.9 547.2l3.4 3.4l-3.4 3.4l-3.4-3.4zM452.2 477.5l3.4 3.4l-3.4 3.4l-3.4-3.4zM457.9 496.5l3.4 3.4l-3.4 3.4l-3.4-3.4zM453.2 472.4l3.4 3.4l-3.4 3.4l-3.4-3.4zM532.0 518.3l3.4 3.4l-3.4 3.4l-3.4-3.4zM451.0 510.7l3.4 3.4l-3.4 3.4l-3.4-3.4zM548.5 479.1l3.4 3.4l-3.4 3.4l-3.4-3.4zM491.2 544.3l3.4 3.4l-3.4 3.4l-3.4-3.4zM442.8 522.5l3.4 3.4l-3.4 3.4l-3.4-3.4zM507.9 498.5l3.4 3.4l-3.4 3.4l-3.4-3.4zM505.2 543.4l3.4 3.4l-3.4 3.4l-3.4-3.4zM450.0 543.5l3.4 3.4l-3.4 3.4l-3.4-3.4zM472.5 532.7l3.4 3.4l-3.4 3.4l-3.4-3.4zM441.2 528.1l3.4 3.4l-3.4 3.4l-3.4-3.4zM520.6 460.5l3.4 3.4l-3.4 3.4l-3.4-3.4zM469.4 547.2l3.4 3.4l-3.4 3.4l-3.4-3.4zM453.7 534.0l3.4 3.4l-3.4 3.4l-3.4-3.4zM521.6 455.1l3.4 3.4l-3.4 3.4l-3.4-3.4zM466.0 543.0l3.4 3.4l-3.4 3.4l-3.4-3.4zM436.7 502.1l3.4 3.4l-3.4 3.4l-3.4-3.4zM439.0 495.9l3.4 3.4l-3.4 3.4l-3.4-3.4zM445.4 522.8l3.4 3.4l-3.4 3.4l-3.4-3.4zM440.8 528.3l3.4 3.4l-3.4 3.4l-3.4-3.4zM425.1 504.3l3.4 3.4l-3.4 3.4l-3.4-3.4zM521.4 519.4l3.4 3.4l-3.4 3.4l-3.4-3.4zM499.9 508.5l3.4 3.4l-3.4 3.4l-3.4-3.4zM481.3 552.9l3.4 3.4l-3.4 3.4l-3.4-3.4zM456.7 515.0l3.4 3.4l-3.4 3.4l-3.4-3.4zM448.3 463.3l3.4 3.4l-3.4 3.4l-3.4-3.4zM554.3 456.3l3.4 3.4l-3.4 3.4l-3.4-3.4zM522.3 485.0l3.4 3.4l-3.4 3.4l-3.4-3.4zM515.2 508.5l3.4 3.4l-3.4 3.4l-3.4-3.4zM453.7 516.9l3.4 3.4l-3.4 3.4l-3.4-3.4zM529.7 490.7l3.4 3.4l-3.4 3.4l-3.4-3.4zM525.0 492.3l3.4 3.4l-3.4 3.4l-3.4-3.4zM497.3 515.2l3.4 3.4l-3.4 3.4l-3.4-3.4zM519.8 484.8l3.4 3.4l-3.4 3.4l-3.4-3.4zM512.6 507.9l3.4 3.4l-3.4 3.4l-3.4-3.4zM452.0 515.2l3.4 3.4l-3.4 3.4l-3.4-3.4zM458.3 546.2l3.4 3.4l-3.4 3.4l-3.4-3.4zM489.4 526.6l3.4 3.4l-3.4 3.4l-3.4-3.4zM496.6 501.0l3.4 3.4l-3.4 3.4l-3.4-3.4zM451.7 466.0l3.4 3.4l-3.4 3.4l-3.4-3.4zM496.9 506.3l3.4 3.4l-3.4 3.4l-3.4-3.4zM540.1 476.1l3.4 3.4l-3.4 3.4l-3.4-3.4zM444.4 537.1l3.4 3.4l-3.4 3.4l-3.4-3.4zM548.3 455.6l3.4 3.4l-3.4 3.4l-3.4-3.4zM475.6 538.1l3.4 3.4l-3.4 3.4l-3.4-3.4zM540.8 464.0l3.4 3.4l-3.4 3.4l-3.4-3.4zM522.5 498.1l3.4 3.4l-3.4 3.4l-3.4-3.4zM490.1 534.6l3.4 3.4l-3.4 3.4l-3.4-3.4zM532.0 466.8l3.4 3.4l-3.4 3.4l-3.4-3.4zM520.3 489.5l3.4 3.4l-3.4 3.4l-3.4-3.4zM496.4 476.0l3.4 3.4l-3.4 3.4l-3.4-3.4zM448.7 510.8l3.4 3.4l-3.4 3.4l-3.4-3.4zM525.9 479.8l3.4 3.4l-3.4 3.4l-3.4-3.4zM543.2 460.7l3.4 3.4l-3.4 3.4l-3.4-3.4zM513.7 540.9l3.4 3.4l-3.4 3.4l-3.4-3.4zM448.8 495.4l3.4 3.4l-3.4 3.4l-3.4-3.4zM537.0 515.7l3.4 3.4l-3.4 3.4l-3.4-3.4zM525.1 482.0l3.4 3.4l-3.4 3.4l-3.4-3.4zM539.8 488.0l3.4 3.4l-3.4 3.4l-3.4-3.4zM531.6 490.8l3.4 3.4l-3.4 3.4l-3.4-3.4zM497.2 503.0l3.4 3.4l-3.4 3.4l-3.4-3.4zM489.4 544.2l3.4 3.4l-3.4 3.4l-3.4-3.4zM495.1 537.4l3.4 3.4l-3.4 3.4l-3.4-3.4zM518.8 528.6l3.4 3.4l-3.4 3.4l-3.4-3.4zM520.2 509.0l3.4 3.4l-3.4 3.4l-3.4-3.4zM430.2 536.6l3.4 3.4l-3.4 3.4l-3.4-3.4zM531.2 510.1l3.4 3.4l-3.4 3.4l-3.4-3.4zM426.9 522.3l3.4 3.4l-3.4 3.4l-3.4-3.4zM524.9 501.6l3.4 3.4l-3.4 3.4l-3.4-3.4zM426.9 523.4l3.4 3.4l-3.4 3.4l-3.4-3.4zM548.9 466.3l3.4 3.4l-3.4 3.4l-3.4-3.4zM546.6 478.0l3.4 3.4l-3.4 3.4l-3.4-3.4zM448.9 456.6l3.4 3.4l-3.4 3.4l-3.4-3.4zM498.9 490.2l3.4 3.4l-3.4 3.4l-3.4-3.4zM505.9 489.4l3.4 3.4l-3.4 3.4l-3.4-3.4zM538.4 472.0l3.4 3.4l-3.4 3.4l-3.4-3.4zM498.3 493.9l3.4 3.4l-3.4 3.4l-3.4-3.4zM503.0 484.9l3.4 3.4l-3.4 3.4l-3.4-3.4zM459.5 534.4l3.4 3.4l-3.4 3.4l-3.4-3.4zM462.2 525.4l3.4 3.4l-3.4 3.4l-3.4-3.4zM538.5 513.0l3.4 3.4l-3.4 3.4l-3.4-3.4zM486.6 548.9l3.4 3.4l-3.4 3.4l-3.4-3.4zM485.1 542.9l3.4 3.4l-3.4 3.4l-3.4-3.4zM514.1 456.2l3.4 3.4l-3.4 3.4l-3.4-3.4zM547.5 458.6l3.4 3.4l-3.4 3.4l-3.4-3.4zM507.7 469.9l3.4 3.4l-3.4 3.4l-3.4-3.4zM519.3 521.7l3.4 3.4l-3.4 3.4l-3.4-3.4zM543.9 466.3l3.4 3.4l-3.4 3.4l-3.4-3.4zM457.2 545.9l3.4 3.4l-3.4 3.4l-3.4-3.4zM521.1 467.3l3.4 3.4l-3.4 3.4l-3.4-3.4zM427.2 523.9l3.4 3.4l-3.4 3.4l-3.4-3.4zM505.6 484.4l3.4 3.4l-3.4 3.4l-3.4-3.4zM502.4 467.2l3.4 3.4l-3.4 3.4l-3.4-3.4zM544.3 467.0l3.4 3.4l-3.4 3.4l-3.4-3.4zM452.0 508.2l3.4 3.4l-3.4 3.4l-3.4-3.4zM432.7 499.7l3.4 3.4l-3.4 3.4l-3.4-3.4zM527.4 496.1l3.4 3.4l-3.4 3.4l-3.4-3.4zM520.1 463.1l3.4 3.4l-3.4 3.4l-3.4-3.4zM542.4 463.9l3.4 3.4l-3.4 3.4l-3.4-3.4zM557.5 460.8l3.4 3.4l-3.4 3.4l-3.4-3.4zM491.1 541.5l3.4 3.4l-3.4 3.4l-3.4-3.4zM507.9 507.7l3.4 3.4l-3.4 3.4l-3.4-3.4zM459.2 544.5l3.4 3.4l-3.4 3.4l-3.4-3.4zM544.9 474.9l3.4 3.4l-3.4 3.4l-3.4-3.4zM556.7 454.5l3.4 3.4l-3.4 3.4l-3.4-3.4zM470.1 549.9l3.4 3.4l-3.4 3.4l-3.4-3.4zM516.7 456.3l3.4 3.4l-3.4 3.4l-3.4-3.4zM455.6 528.8l3.4 3.4l-3.4 3.4l-3.4-3.4zM445.4 533.5l3.4 3.4l-3.4 3.4l-3.4-3.4zM502.2 461.1l3.4 3.4l-3.4 3.4l-3.4-3.4zM501.0 533.5l3.4 3.4l-3.4 3.4l-3.4-3.4zM507.6 499.4l3.4 3.4l-3.4 3.4l-3.4-3.4zM423.7 504.8l3.4 3.4l-3.4 3.4l-3.4-3.4zM433.2 518.8l3.4 3.4l-3.4 3.4l-3.4-3.4zM438.4 511.6l3.4 3.4l-3.4 3.4l-3.4-3.4zM517.7 468.2l3.4 3.4l-3.4 3.4l-3.4-3.4zM468.2 539.2l3.4 3.4l-3.4 3.4l-3.4-3.4zM549.9 463.3l3.4 3.4l-3.4 3.4l-3.4-3.4zM436.3 500.0l3.4 3.4l-3.4 3.4l-3.4-3.4zM443.2 507.1l3.4 3.4l-3.4 3.4l-3.4-3.4zM448.2 493.3l3.4 3.4l-3.4 3.4l-3.4-3.4zM449.1 464.4l3.4 3.4l-3.4 3.4l-3.4-3.4zM454.5 542.3l3.4 3.4l-3.4 3.4l-3.4-3.4zM493.6 544.3l3.4 3.4l-3.4 3.4l-3.4-3.4zM491.6 533.8l3.4 3.4l-3.4 3.4l-3.4-3.4zM503.9 523.2l3.4 3.4l-3.4 3.4l-3.4-3.4zM452.9 529.6l3.4 3.4l-3.4 3.4l-3.4-3.4zM496.1 481.6l3.4 3.4l-3.4 3.4l-3.4-3.4zM551.7 459.9l3.4 3.4l-3.4 3.4l-3.4-3.4zM505.1 475.6l3.4 3.4l-3.4 3.4l-3.4-3.4zM507.6 533.1l3.4 3.4l-3.4 3.4l-3.4-3.4zM524.8 457.6l3.4 3.4l-3.4 3.4l-3.4-3.4zM455.4 513.8l3.4 3.4l-3.4 3.4l-3.4-3.4zM511.0 523.5l3.4 3.4l-3.4 3.4l-3.4-3.4zM540.3 486.9l3.4 3.4l-3.4 3.4l-3.4-3.4zM556.2 452.2l3.4 3.4l-3.4 3.4l-3.4-3.4zM455.3 527.9l3.4 3.4l-3.4 3.4l-3.4-3.4zM520.0 466.9l3.4 3.4l-3.4 3.4l-3.4-3.4zM448.3 474.1l3.4 3.4l-3.4 3.4l-3.4-3.4zM530.9 517.7l3.4 3.4l-3.4 3.4l-3.4-3.4zM448.4 516.5l3.4 3.4l-3.4 3.4l-3.4-3.4zM432.5 526.1l3.4 3.4l-3.4 3.4l-3.4-3.4zM530.0 465.2l3.4 3.4l-3.4 3.4l-3.4-3.4zM506.8 496.6l3.4 3.4l-3.4 3.4l-3.4-3.4zM548.7 482.4l3.4 3.4l-3.4 3.4l-3.4-3.4zM456.3 538.8l3.4 3.4l-3.4 3.4l-3.4-3.4zM453.4 471.8l3.4 3.4l-3.4 3.4l-3.4-3.4zM492.2 546.1l3.4 3.4l-3.4 3.4l-3.4-3.4zM521.0 525.4l3.4 3.4l-3.4 3.4l-3.4-3.4zM516.1 538.6l3.4 3.4l-3.4 3.4l-3.4-3.4zM509.0 499.0l3.4 3.4l-3.4 3.4l-3.4-3.4zM471.5 539.4l3.4 3.4l-3.4 3.4l-3.4-3.4zM511.2 481.7l3.4 3.4l-3.4 3.4l-3.4-3.4zM523.4 497.3l3.4 3.4l-3.4 3.4l-3.4-3.4zM517.4 535.5l3.4 3.4l-3.4 3.4l-3.4-3.4zM436.7 522.5l3.4 3.4l-3.4 3.4l-3.4-3.4zM452.2 544.2l3.4 3.4l-3.4 3.4l-3.4-3.4zM509.8 544.6l3.4 3.4l-3.4 3.4l-3.4-3.4zM542.7 468.1l3.4 3.4l-3.4 3.4l-3.4-3.4zM486.6 535.8l3.4 3.4l-3.4 3.4l-3.4-3.4zM456.1 488.0l3.4 3.4l-3.4 3.4l-3.4-3.4zM433.8 508.9l3.4 3.4l-3.4 3.4l-3.4-3.4zM474.9 548.2l3.4 3.4l-3.4 3.4l-3.4-3.4zM430.0 516.4l3.4 3.4l-3.4 3.4l-3.4-3.4zM485.0 551.3l3.4 3.4l-3.4 3.4l-3.4-3.4zM513.0 490.4l3.4 3.4l-3.4 3.4l-3.4-3.4zM496.7 521.9l3.4 3.4l-3.4 3.4l-3.4-3.4zM473.0 553.2l3.4 3.4l-3.4 3.4l-3.4-3.4zM520.8 509.4l3.4 3.4l-3.4 3.4l-3.4-3.4zM530.6 454.8l3.4 3.4l-3.4 3.4l-3.4-3.4zM440.3 512.6l3.4 3.4l-3.4 3.4l-3.4-3.4zM504.8 456.0l3.4 3.4l-3.4 3.4l-3.4-3.4zM514.5 480.5l3.4 3.4l-3.4 3.4l-3.4-3.4zM532.5 481.6l3.4 3.4l-3.4 3.4l-3.4-3.4zM500.0 495.1l3.4 3.4l-3.4 3.4l-3.4-3.4zM475.5 551.8l3.4 3.4l-3.4 3.4l-3.4-3.4zM524.7 523.4l3.4 3.4l-3.4 3.4l-3.4-3.4zM504.6 537.5l3.4 3.4l-3.4 3.4l-3.4-3.4zM537.2 487.4l3.4 3.4l-3.4 3.4l-3.4-3.4zM439.6 505.1l3.4 3.4l-3.4 3.4l-3.4-3.4zM528.9 469.0l3.4 3.4l-3.4 3.4l-3.4-3.4zM485.9 538.7l3.4 3.4l-3.4 3.4l-3.4-3.4zM513.8 532.5l3.4 3.4l-3.4 3.4l-3.4-3.4zM502.1 521.2l3.4 3.4l-3.4 3.4l-3.4-3.4zM531.1 479.9l3.4 3.4l-3.4 3.4l-3.4-3.4zM472.9 547.1l3.4 3.4l-3.4 3.4l-3.4-3.4zM497.7 481.3l3.4 3.4l-3.4 3.4l-3.4-3.4zM512.8 478.3l3.4 3.4l-3.4 3.4l-3.4-3.4zM533.9 455.4l3.4 3.4l-3.4 3.4l-3.4-3.4zM471.5 549.4l3.4 3.4l-3.4 3.4l-3.4-3.4zM458.3 476.6l3.4 3.4l-3.4 3.4l-3.4-3.4zM429.1 508.5l3.4 3.4l-3.4 3.4l-3.4-3.4zM531.2 522.0l3.4 3.4l-3.4 3.4l-3.4-3.4zM513.3 523.5l3.4 3.4l-3.4 3.4l-3.4-3.4zM534.3 492.4l3.4 3.4l-3.4 3.4l-3.4-3.4zM539.0 487.7l3.4 3.4l-3.4 3.4l-3.4-3.4zM498.1 505.6l3.4 3.4l-3.4 3.4l-3.4-3.4zM493.7 540.2l3.4 3.4l-3.4 3.4l-3.4-3.4zM518.4 511.5l3.4 3.4l-3.4 3.4l-3.4-3.4zM459.6 539.5l3.4 3.4l-3.4 3.4l-3.4-3.4zM441.3 521.3l3.4 3.4l-3.4 3.4l-3.4-3.4zM438.3 524.7l3.4 3.4l-3.4 3.4l-3.4-3.4zM523.8 515.2l3.4 3.4l-3.4 3.4l-3.4-3.4zM508.8 537.3l3.4 3.4l-3.4 3.4l-3.4-3.4zM452.1 460.9l3.4 3.4l-3.4 3.4l-3.4-3.4zM538.5 488.7l3.4 3.4l-3.4 3.4l-3.4-3.4zM523.1 458.7l3.4 3.4l-3.4 3.4l-3.4-3.4zM543.9 485.1l3.4 3.4l-3.4 3.4l-3.4-3.4zM501.5 535.6l3.4 3.4l-3.4 3.4l-3.4-3.4zM512.7 486.7l3.4 3.4l-3.4 3.4l-3.4-3.4zM468.1 510.6l3.4 3.4l-3.4 3.4l-3.4-3.4zM451.2 534.1l3.4 3.4l-3.4 3.4l-3.4-3.4zM449.9 538.9l3.4 3.4l-3.4 3.4l-3.4-3.4zM422.9 503.9l3.4 3.4l-3.4 3.4l-3.4-3.4zM512.8 526.9l3.4 3.4l-3.4 3.4l-3.4-3.4zM506.0 493.0l3.4 3.4l-3.4 3.4l-3.4-3.4zM495.2 512.7l3.4 3.4l-3.4 3.4l-3.4-3.4zM452.5 541.9l3.4 3.4l-3.4 3.4l-3.4-3.4zM524.5 498.7l3.4 3.4l-3.4 3.4l-3.4-3.4zM447.7 528.1l3.4 3.4l-3.4 3.4l-3.4-3.4zM448.2 524.7l3.4 3.4l-3.4 3.4l-3.4-3.4zM448.1 478.9l3.4 3.4l-3.4 3.4l-3.4-3.4zM502.3 524.4l3.4 3.4l-3.4 3.4l-3.4-3.4zM526.5 517.0l3.4 3.4l-3.4 3.4l-3.4-3.4zM458.1 488.3l3.4 3.4l-3.4 3.4l-3.4-3.4zM443.1 517.2l3.4 3.4l-3.4 3.4l-3.4-3.4zM471.7 545.1l3.4 3.4l-3.4 3.4l-3.4-3.4zM441.7 532.4l3.4 3.4l-3.4 3.4l-3.4-3.4zM489.8 537.1l3.4 3.4l-3.4 3.4l-3.4-3.4zM502.8 504.2l3.4 3.4l-3.4 3.4l-3.4-3.4zM449.9 477.5l3.4 3.4l-3.4 3.4l-3.4-3.4zM528.0 491.3l3.4 3.4l-3.4 3.4l-3.4-3.4zM450.7 512.3l3.4 3.4l-3.4 3.4l-3.4-3.4zM449.4 476.6l3.4 3.4l-3.4 3.4l-3.4-3.4zM434.2 512.9l3.4 3.4l-3.4 3.4l-3.4-3.4zM513.7 525.1l3.4 3.4l-3.4 3.4l-3.4-3.4zM526.9 456.7l3.4 3.4l-3.4 3.4l-3.4-3.4zM519.2 525.8l3.4 3.4l-3.4 3.4l-3.4-3.4zM454.5 519.0l3.4 3.4l-3.4 3.4l-3.4-3.4zM522.0 500.4l3.4 3.4l-3.4 3.4l-3.4-3.4zM508.1 457.7l3.4 3.4l-3.4 3.4l-3.4-3.4zM452.8 492.1l3.4 3.4l-3.4 3.4l-3.4-3.4zM513.3 528.7l3.4 3.4l-3.4 3.4l-3.4-3.4zM451.5 521.4l3.4 3.4l-3.4 3.4l-3.4-3.4zM531.7 462.0l3.4 3.4l-3.4 3.4l-3.4-3.4zM446.6 535.5l3.4 3.4l-3.4 3.4l-3.4-3.4zM443.0 504.7l3.4 3.4l-3.4 3.4l-3.4-3.4zM434.5 533.4l3.4 3.4l-3.4 3.4l-3.4-3.4zM501.7 537.0l3.4 3.4l-3.4 3.4l-3.4-3.4zM493.7 515.9l3.4 3.4l-3.4 3.4l-3.4-3.4zM507.5 534.7l3.4 3.4l-3.4 3.4l-3.4-3.4zM500.1 481.5l3.4 3.4l-3.4 3.4l-3.4-3.4zM529.9 453.6l3.4 3.4l-3.4 3.4l-3.4-3.4zM515.8 472.8l3.4 3.4l-3.4 3.4l-3.4-3.4zM545.4 461.7l3.4 3.4l-3.4 3.4l-3.4-3.4zM532.5 466.6l3.4 3.4l-3.4 3.4l-3.4-3.4zM533.5 451.8l3.4 3.4l-3.4 3.4l-3.4-3.4zM522.1 513.7l3.4 3.4l-3.4 3.4l-3.4-3.4zM525.7 454.3l3.4 3.4l-3.4 3.4l-3.4-3.4zM483.0 543.0l3.4 3.4l-3.4 3.4l-3.4-3.4zM456.4 482.5l3.4 3.4l-3.4 3.4l-3.4-3.4zM432.8 497.4l3.4 3.4l-3.4 3.4l-3.4-3.4zM531.1 479.8l3.4 3.4l-3.4 3.4l-3.4-3.4zM456.0 494.2l3.4 3.4l-3.4 3.4l-3.4-3.4zM467.8 531.7l3.4 3.4l-3.4 3.4l-3.4-3.4zM434.4 537.4l3.4 3.4l-3.4 3.4l-3.4-3.4zM465.5 516.7l3.4 3.4l-3.4 3.4l-3.4-3.4zM498.0 519.1l3.4 3.4l-3.4 3.4l-3.4-3.4zM499.1 549.2l3.4 3.4l-3.4 3.4l-3.4-3.4zM479.5 546.7l3.4 3.4l-3.4 3.4l-3.4-3.4zM461.6 545.9l3.4 3.4l-3.4 3.4l-3.4-3.4zM445.0 496.9l3.4 3.4l-3.4 3.4l-3.4-3.4zM521.3 523.3l3.4 3.4l-3.4 3.4l-3.4-3.4zM455.8 478.0l3.4 3.4l-3.4 3.4l-3.4-3.4zM422.8 523.4l3.4 3.4l-3.4 3.4l-3.4-3.4zM449.9 478.2l3.4 3.4l-3.4 3.4l-3.4-3.4zM507.0 519.7l3.4 3.4l-3.4 3.4l-3.4-3.4zM508.0 523.8l3.4 3.4l-3.4 3.4l-3.4-3.4zM435.6 502.7l3.4 3.4l-3.4 3.4l-3.4-3.4zM459.5 531.6l3.4 3.4l-3.4 3.4l-3.4-3.4zM521.6 497.6l3.4 3.4l-3.4 3.4l-3.4-3.4zM527.4 461.0l3.4 3.4l-3.4 3.4l-3.4-3.4zM543.0 454.3l3.4 3.4l-3.4 3.4l-3.4-3.4zM542.4 474.8l3.4 3.4l-3.4 3.4l-3.4-3.4zM518.8 480.1l3.4 3.4l-3.4 3.4l-3.4-3.4zM517.1 512.5l3.4 3.4l-3.4 3.4l-3.4-3.4zM517.4 470.0l3.4 3.4l-3.4 3.4l-3.4-3.4zM516.1 510.7l3.4 3.4l-3.4 3.4l-3.4-3.4zM452.0 457.9l3.4 3.4l-3.4 3.4l-3.4-3.4zM473.0 526.7l3.4 3.4l-3.4 3.4l-3.4-3.4zM439.4 533.5l3.4 3.4l-3.4 3.4l-3.4-3.4zM456.3 489.4l3.4 3.4l-3.4 3.4l-3.4-3.4zM455.8 534.4l3.4 3.4l-3.4 3.4l-3.4-3.4zM461.3 490.9l3.4 3.4l-3.4 3.4l-3.4-3.4zM532.9 474.5l3.4 3.4l-3.4 3.4l-3.4-3.4zM447.7 474.0l3.4 3.4l-3.4 3.4l-3.4-3.4zM514.5 500.4l3.4 3.4l-3.4 3.4l-3.4-3.4zM548.5 456.4l3.4 3.4l-3.4 3.4l-3.4-3.4zM517.8 538.6l3.4 3.4l-3.4 3.4l-3.4-3.4zM453.2 497.2l3.4 3.4l-3.4 3.4l-3.4-3.4zM529.8 510.0l3.4 3.4l-3.4 3.4l-3.4-3.4zM546.8 462.6l3.4 3.4l-3.4 3.4l-3.4-3.4zM454.5 468.9l3.4 3.4l-3.4 3.4l-3.4-3.4zM527.9 458.9l3.4 3.4l-3.4 3.4l-3.4-3.4zM449.4 520.4l3.4 3.4l-3.4 3.4l-3.4-3.4zM445.6 452.2l3.4 3.4l-3.4 3.4l-3.4-3.4zM516.2 504.9l3.4 3.4l-3.4 3.4l-3.4-3.4zM529.3 507.3l3.4 3.4l-3.4 3.4l-3.4-3.4zM453.6 503.3l3.4 3.4l-3.4 3.4l-3.4-3.4zM509.0 519.2l3.4 3.4l-3.4 3.4l-3.4-3.4zM440.4 535.2l3.4 3.4l-3.4 3.4l-3.4-3.4zM442.5 469.3l3.4 3.4l-3.4 3.4l-3.4-3.4zM445.4 460.1l3.4 3.4l-3.4 3.4l-3.4-3.4zM402.2 480.7l3.4 3.4l-3.4 3.4l-3.4-3.4zM445.4 455.2l3.4 3.4l-3.4 3.4l-3.4-3.4zM401.6 452.9l3.4 3.4l-3.4 3.4l-3.4-3.4zM415.8 458.1l3.4 3.4l-3.4 3.4l-3.4-3.4zM400.0 488.1l3.4 3.4l-3.4 3.4l-3.4-3.4zM425.0 497.5l3.4 3.4l-3.4 3.4l-3.4-3.4zM413.4 484.7l3.4 3.4l-3.4 3.4l-3.4-3.4zM402.6 474.7l3.4 3.4l-3.4 3.4l-3.4-3.4zM420.4 498.0l3.4 3.4l-3.4 3.4l-3.4-3.4zM419.2 500.1l3.4 3.4l-3.4 3.4l-3.4-3.4zM427.4 461.8l3.4 3.4l-3.4 3.4l-3.4-3.4zM441.0 461.1l3.4 3.4l-3.4 3.4l-3.4-3.4zM408.3 471.2l3.4 3.4l-3.4 3.4l-3.4-3.4zM409.7 484.1l3.4 3.4l-3.4 3.4l-3.4-3.4zM398.1 492.0l3.4 3.4l-3.4 3.4l-3.4-3.4zM404.2 473.6l3.4 3.4l-3.4 3.4l-3.4-3.4zM423.7 486.3l3.4 3.4l-3.4 3.4l-3.4-3.4zM396.5 463.0l3.4 3.4l-3.4 3.4l-3.4-3.4zM397.3 457.9l3.4 3.4l-3.4 3.4l-3.4-3.4zM421.1 479.8l3.4 3.4l-3.4 3.4l-3.4-3.4zM444.4 453.9l3.4 3.4l-3.4 3.4l-3.4-3.4zM402.7 459.4l3.4 3.4l-3.4 3.4l-3.4-3.4zM425.2 473.5l3.4 3.4l-3.4 3.4l-3.4-3.4zM413.9 495.0l3.4 3.4l-3.4 3.4l-3.4-3.4zM430.0 493.6l3.4 3.4l-3.4 3.4l-3.4-3.4zM406.3 465.4l3.4 3.4l-3.4 3.4l-3.4-3.4zM414.6 477.3l3.4 3.4l-3.4 3.4l-3.4-3.4zM429.5 476.4l3.4 3.4l-3.4 3.4l-3.4-3.4zM395.2 463.2l3.4 3.4l-3.4 3.4l-3.4-3.4zM429.8 480.1l3.4 3.4l-3.4 3.4l-3.4-3.4zM424.2 460.1l3.4 3.4l-3.4 3.4l-3.4-3.4zM432.0 463.7l3.4 3.4l-3.4 3.4l-3.4-3.4zM402.9 469.2l3.4 3.4l-3.4 3.4l-3.4-3.4zM421.2 484.6l3.4 3.4l-3.4 3.4l-3.4-3.4zM392.4 487.7l3.4 3.4l-3.4 3.4l-3.4-3.4zM427.6 474.4l3.4 3.4l-3.4 3.4l-3.4-3.4zM430.7 490.6l3.4 3.4l-3.4 3.4l-3.4-3.4zM431.1 486.1l3.4 3.4l-3.4 3.4l-3.4-3.4zM429.1 460.0l3.4 3.4l-3.4 3.4l-3.4-3.4zM543.9 534.0l3.4 3.4l-3.4 3.4l-3.4-3.4zM560.3 482.1l3.4 3.4l-3.4 3.4l-3.4-3.4zM556.7 517.2l3.4 3.4l-3.4 3.4l-3.4-3.4zM541.2 511.8l3.4 3.4l-3.4 3.4l-3.4-3.4zM557.3 465.0l3.4 3.4l-3.4 3.4l-3.4-3.4zM541.9 534.1l3.4 3.4l-3.4 3.4l-3.4-3.4zM561.9 523.1l3.4 3.4l-3.4 3.4l-3.4-3.4zM555.6 505.8l3.4 3.4l-3.4 3.4l-3.4-3.4zM564.7 502.9l3.4 3.4l-3.4 3.4l-3.4-3.4zM552.9 468.2l3.4 3.4l-3.4 3.4l-3.4-3.4zM559.8 474.6l3.4 3.4l-3.4 3.4l-3.4-3.4zM529.1 531.7l3.4 3.4l-3.4 3.4l-3.4-3.4zM540.2 496.1l3.4 3.4l-3.4 3.4l-3.4-3.4zM554.7 511.2l3.4 3.4l-3.4 3.4l-3.4-3.4zM536.5 519.4l3.4 3.4l-3.4 3.4l-3.4-3.4zM560.0 480.6l3.4 3.4l-3.4 3.4l-3.4-3.4zM558.2 484.3l3.4 3.4l-3.4 3.4l-3.4-3.4zM559.4 470.9l3.4 3.4l-3.4 3.4l-3.4-3.4zM563.4 520.2l3.4 3.4l-3.4 3.4l-3.4-3.4zM563.8 519.3l3.4 3.4l-3.4 3.4l-3.4-3.4zM556.7 499.8l3.4 3.4l-3.4 3.4l-3.4-3.4zM552.6 460.4l3.4 3.4l-3.4 3.4l-3.4-3.4zM555.2 471.9l3.4 3.4l-3.4 3.4l-3.4-3.4zM550.1 513.6l3.4 3.4l-3.4 3.4l-3.4-3.4zM555.5 510.7l3.4 3.4l-3.4 3.4l-3.4-3.4zM554.3 528.8l3.4 3.4l-3.4 3.4l-3.4-3.4zM556.7 473.6l3.4 3.4l-3.4 3.4l-3.4-3.4zM562.1 522.4l3.4 3.4l-3.4 3.4l-3.4-3.4zM563.3 477.8l3.4 3.4l-3.4 3.4l-3.4-3.4zM549.5 482.4l3.4 3.4l-3.4 3.4l-3.4-3.4zM559.4 496.7l3.4 3.4l-3.4 3.4l-3.4-3.4zM562.3 460.3l3.4 3.4l-3.4 3.4l-3.4-3.4zM557.0 470.2l3.4 3.4l-3.4 3.4l-3.4-3.4zM559.2 517.5l3.4 3.4l-3.4 3.4l-3.4-3.4zM554.5 460.2l3.4 3.4l-3.4 3.4l-3.4-3.4zM546.2 506.0l3.4 3.4l-3.4 3.4l-3.4-3.4zM554.5 477.0l3.4 3.4l-3.4 3.4l-3.4-3.4zM562.1 488.8l3.4 3.4l-3.4 3.4l-3.4-3.4zM528.0 534.2l3.4 3.4l-3.4 3.4l-3.4-3.4zM562.0 462.8l3.4 3.4l-3.4 3.4l-3.4-3.4zM565.2 465.7l3.4 3.4l-3.4 3.4l-3.4-3.4zM547.1 533.5l3.4 3.4l-3.4 3.4l-3.4-3.4zM553.7 476.0l3.4 3.4l-3.4 3.4l-3.4-3.4zM546.7 512.8l3.4 3.4l-3.4 3.4l-3.4-3.4zM560.3 462.3l3.4 3.4l-3.4 3.4l-3.4-3.4zM533.1 533.7l3.4 3.4l-3.4 3.4l-3.4-3.4zM566.3 478.8l3.4 3.4l-3.4 3.4l-3.4-3.4zM544.4 521.9l3.4 3.4l-3.4 3.4l-3.4-3.4zM566.8 500.7l3.4 3.4l-3.4 3.4l-3.4-3.4zM553.8 528.6l3.4 3.4l-3.4 3.4l-3.4-3.4zM571.2 479.3l3.4 3.4l-3.4 3.4l-3.4-3.4zM566.0 521.7l3.4 3.4l-3.4 3.4l-3.4-3.4zM534.7 529.5l3.4 3.4l-3.4 3.4l-3.4-3.4z" fill="#7f7f7f"/>
<path d="M341.1 256.3l3.4 3.4l-3.4 3.4l-3.4-3.4zM388.0 261.1l3.4 3.4l-3.4 3.4l-3.4-3.4zM391.5 257.8l3.4 3.4l-3.4 3.4l-3.4-3.4zM385.0 292.7l3.4 3.4l-3.4 3.4l-3.4-3.4zM401.8 280.7l3.4 3.4l-3.4 3.4l-3.4-3.4zM418.4 280.7l3.4 3.4l-3.4 3.4l-3.4-3.4zM424.7 285.2l3.4 3.4l-3.4 3.4l-3.4-3.4zM398.7 291.4l3.4 3.4l-3.4 3.4l-3.4-3.4zM358.9 309.6l3.4 3.4l-3.4 3.4l-3.4-3.4zM361.0 312.6l3.4 3.4l-3.4 3.4l-3.4-3.4zM370.0 314.0l3.4 3.4l-3.4 3.4l-3.4-3.4zM398.6 309.6l3.4 3.4l-3.4 3.4l-3.4-3.4zM396.2 313.8l3.4 3.4l-3.4 3.4l-3.4-3.4zM406.9 318.5l3.4 3.4l-3.4 3.4l-3.4-3.4zM403.4 320.3l3.4 3.4l-3.4 3.4l-3.4-3.4zM400.4 324.5l3.4 3.4l-3.4 3.4l-3.4-3.4zM416.8 321.5l3.4 3.4l-3.4 3.4l-3.4-3.4zM395.6 329.2l3.4 3.4l-3.4 3.4l-3.4-3.4zM406.3 330.4l3.4 3.4l-3.4 3.4l-3.4-3.4zM414.1 331.6l3.4 3.4l-3.4 3.4l-3.4-3.4zM411.1 334.0l3.4 3.4l-3.4 3.4l-3.4-3.4zM432.0 329.2l3.4 3.4l-3.4 3.4l-3.4-3.4zM350.3 334.0l3.4 3.4l-3.4 3.4l-3.4-3.4zM354.9 334.0l3.4 3.4l-3.4 3.4l-3.4-3.4zM373.0 330.4l3.4 3.4l-3.4 3.4l-3.4-3.4zM377.1 333.8l3.4 3.4l-3.4 3.4l-3.4-3.4zM420.0 336.4l3.4 3.4l-3.4 3.4l-3.4-3.4zM409.3 337.0l3.4 3.4l-3.4 3.4l-3.4-3.4zM399.8 338.2l3.4 3.4l-3.4 3.4l-3.4-3.4zM402.8 342.4l3.4 3.4l-3.4 3.4l-3.4-3.4zM405.7 344.7l3.4 3.4l-3.4 3.4l-3.4-3.4zM384.9 340.0l3.4 3.4l-3.4 3.4l-3.4-3.4zM366.8 341.4l3.4 3.4l-3.4 3.4l-3.4-3.4zM418.3 342.4l3.4 3.4l-3.4 3.4l-3.4-3.4zM418.3 347.7l3.4 3.4l-3.4 3.4l-3.4-3.4zM395.0 344.7l3.4 3.4l-3.4 3.4l-3.4-3.4zM392.6 347.7l3.4 3.4l-3.4 3.4l-3.4-3.4zM384.9 348.9l3.4 3.4l-3.4 3.4l-3.4-3.4zM389.7 350.7l3.4 3.4l-3.4 3.4l-3.4-3.4zM432.0 348.9l3.4 3.4l-3.4 3.4l-3.4-3.4zM357.7 351.9l3.4 3.4l-3.4 3.4l-3.4-3.4zM348.5 356.7l3.4 3.4l-3.4 3.4l-3.4-3.4zM410.9 353.3l3.4 3.4l-3.4 3.4l-3.4-3.4zM429.0 354.9l3.4 3.4l-3.4 3.4l-3.4-3.4zM374.2 356.7l3.4 3.4l-3.4 3.4l-3.4-3.4zM380.1 356.7l3.4 3.4l-3.4 3.4l-3.4-3.4zM392.0 359.0l3.4 3.4l-3.4 3.4l-3.4-3.4zM398.6 359.0l3.4 3.4l-3.4 3.4l-3.4-3.4zM390.3 363.8l3.4 3.4l-3.4 3.4l-3.4-3.4zM409.3 360.8l3.4 3.4l-3.4 3.4l-3.4-3.4zM414.7 357.9l3.4 3.4l-3.4 3.4l-3.4-3.4zM420.6 357.9l3.4 3.4l-3.4 3.4l-3.4-3.4zM423.0 360.2l3.4 3.4l-3.4 3.4l-3.4-3.4zM440.9 362.6l3.4 3.4l-3.4 3.4l-3.4-3.4zM436.1 365.6l3.4 3.4l-3.4 3.4l-3.4-3.4zM359.3 368.6l3.4 3.4l-3.4 3.4l-3.4-3.4zM413.5 367.4l3.4 3.4l-3.4 3.4l-3.4-3.4zM426.0 365.6l3.4 3.4l-3.4 3.4l-3.4-3.4zM380.7 371.6l3.4 3.4l-3.4 3.4l-3.4-3.4zM383.7 373.3l3.4 3.4l-3.4 3.4l-3.4-3.4zM439.7 370.4l3.4 3.4l-3.4 3.4l-3.4-3.4zM434.9 373.9l3.4 3.4l-3.4 3.4l-3.4-3.4zM365.2 380.5l3.4 3.4l-3.4 3.4l-3.4-3.4zM383.7 382.3l3.4 3.4l-3.4 3.4l-3.4-3.4zM401.0 376.9l3.4 3.4l-3.4 3.4l-3.4-3.4zM406.3 376.9l3.4 3.4l-3.4 3.4l-3.4-3.4zM410.5 378.1l3.4 3.4l-3.4 3.4l-3.4-3.4zM409.9 382.9l3.4 3.4l-3.4 3.4l-3.4-3.4zM420.0 381.7l3.4 3.4l-3.4 3.4l-3.4-3.4zM399.2 384.1l3.4 3.4l-3.4 3.4l-3.4-3.4zM417.1 384.7l3.4 3.4l-3.4 3.4l-3.4-3.4zM427.8 385.3l3.4 3.4l-3.4 3.4l-3.4-3.4zM318.4 392.9l3.4 3.4l-3.4 3.4l-3.4-3.4zM298.5 408.1l3.4 3.4l-3.4 3.4l-3.4-3.4zM325.9 404.8l3.4 3.4l-3.4 3.4l-3.4-3.4zM347.0 403.4l3.4 3.4l-3.4 3.4l-3.4-3.4zM356.0 408.1l3.4 3.4l-3.4 3.4l-3.4-3.4zM363.8 400.4l3.4 3.4l-3.4 3.4l-3.4-3.4zM365.2 387.0l3.4 3.4l-3.4 3.4l-3.4-3.4zM384.3 390.5l3.4 3.4l-3.4 3.4l-3.4-3.4zM359.3 426.3l3.4 3.4l-3.4 3.4l-3.4-3.4zM356.3 441.2l3.4 3.4l-3.4 3.4l-3.4-3.4zM365.2 443.6l3.4 3.4l-3.4 3.4l-3.4-3.4zM362.2 447.2l3.4 3.4l-3.4 3.4l-3.4-3.4zM375.9 440.0l3.4 3.4l-3.4 3.4l-3.4-3.4zM380.1 408.1l3.4 3.4l-3.4 3.4l-3.4-3.4zM386.1 403.7l3.4 3.4l-3.4 3.4l-3.4-3.4zM389.1 410.2l3.4 3.4l-3.4 3.4l-3.4-3.4zM386.1 420.3l3.4 3.4l-3.4 3.4l-3.4-3.4zM392.6 418.8l3.4 3.4l-3.4 3.4l-3.4-3.4zM388.5 429.3l3.4 3.4l-3.4 3.4l-3.4-3.4zM394.4 432.3l3.4 3.4l-3.4 3.4l-3.4-3.4zM396.8 385.2l3.4 3.4l-3.4 3.4l-3.4-3.4zM402.8 387.6l3.4 3.4l-3.4 3.4l-3.4-3.4zM408.7 386.4l3.4 3.4l-3.4 3.4l-3.4-3.4zM412.3 384.0l3.4 3.4l-3.4 3.4l-3.4-3.4zM418.3 383.4l3.4 3.4l-3.4 3.4l-3.4-3.4zM421.8 384.0l3.4 3.4l-3.4 3.4l-3.4-3.4zM427.8 386.4l3.4 3.4l-3.4 3.4l-3.4-3.4zM430.2 389.9l3.4 3.4l-3.4 3.4l-3.4-3.4zM433.8 392.9l3.4 3.4l-3.4 3.4l-3.4-3.4zM399.2 390.5l3.4 3.4l-3.4 3.4l-3.4-3.4zM406.3 390.5l3.4 3.4l-3.4 3.4l-3.4-3.4zM411.1 389.9l3.4 3.4l-3.4 3.4l-3.4-3.4zM396.8 394.1l3.4 3.4l-3.4 3.4l-3.4-3.4zM420.6 391.1l3.4 3.4l-3.4 3.4l-3.4-3.4zM423.0 395.9l3.4 3.4l-3.4 3.4l-3.4-3.4zM425.4 399.5l3.4 3.4l-3.4 3.4l-3.4-3.4zM409.3 400.1l3.4 3.4l-3.4 3.4l-3.4-3.4zM417.1 398.9l3.4 3.4l-3.4 3.4l-3.4-3.4zM398.0 405.4l3.4 3.4l-3.4 3.4l-3.4-3.4zM400.4 410.2l3.4 3.4l-3.4 3.4l-3.4-3.4zM404.6 407.2l3.4 3.4l-3.4 3.4l-3.4-3.4zM409.9 405.4l3.4 3.4l-3.4 3.4l-3.4-3.4zM411.1 412.0l3.4 3.4l-3.4 3.4l-3.4-3.4zM420.6 407.2l3.4 3.4l-3.4 3.4l-3.4-3.4zM425.4 404.8l3.4 3.4l-3.4 3.4l-3.4-3.4zM431.4 401.9l3.4 3.4l-3.4 3.4l-3.4-3.4zM429.6 411.4l3.4 3.4l-3.4 3.4l-3.4-3.4zM418.3 413.8l3.4 3.4l-3.4 3.4l-3.4-3.4zM438.5 409.0l3.4 3.4l-3.4 3.4l-3.4-3.4zM440.3 412.6l3.4 3.4l-3.4 3.4l-3.4-3.4zM448.1 406.6l3.4 3.4l-3.4 3.4l-3.4-3.4zM449.2 410.2l3.4 3.4l-3.4 3.4l-3.4-3.4zM404.0 423.3l3.4 3.4l-3.4 3.4l-3.4-3.4zM408.7 420.9l3.4 3.4l-3.4 3.4l-3.4-3.4zM414.7 420.3l3.4 3.4l-3.4 3.4l-3.4-3.4zM400.4 428.1l3.4 3.4l-3.4 3.4l-3.4-3.4zM398.0 431.7l3.4 3.4l-3.4 3.4l-3.4-3.4zM412.3 431.7l3.4 3.4l-3.4 3.4l-3.4-3.4zM417.1 429.3l3.4 3.4l-3.4 3.4l-3.4-3.4zM420.6 426.9l3.4 3.4l-3.4 3.4l-3.4-3.4zM429.0 423.3l3.4 3.4l-3.4 3.4l-3.4-3.4zM434.9 425.7l3.4 3.4l-3.4 3.4l-3.4-3.4zM440.9 423.9l3.4 3.4l-3.4 3.4l-3.4-3.4zM436.1 429.3l3.4 3.4l-3.4 3.4l-3.4-3.4zM444.5 426.9l3.4 3.4l-3.4 3.4l-3.4-3.4zM442.1 431.7l3.4 3.4l-3.4 3.4l-3.4-3.4zM418.3 432.9l3.4 3.4l-3.4 3.4l-3.4-3.4zM402.8 440.0l3.4 3.4l-3.4 3.4l-3.4-3.4zM408.7 440.0l3.4 3.4l-3.4 3.4l-3.4-3.4zM411.1 446.0l3.4 3.4l-3.4 3.4l-3.4-3.4zM400.4 446.0l3.4 3.4l-3.4 3.4l-3.4-3.4zM420.6 437.6l3.4 3.4l-3.4 3.4l-3.4-3.4zM423.0 441.2l3.4 3.4l-3.4 3.4l-3.4-3.4zM427.8 438.8l3.4 3.4l-3.4 3.4l-3.4-3.4zM419.5 444.8l3.4 3.4l-3.4 3.4l-3.4-3.4zM426.6 446.0l3.4 3.4l-3.4 3.4l-3.4-3.4zM434.9 443.6l3.4 3.4l-3.4 3.4l-3.4-3.4zM440.9 442.4l3.4 3.4l-3.4 3.4l-3.4-3.4zM448.1 441.2l3.4 3.4l-3.4 3.4l-3.4-3.4zM433.8 448.3l3.4 3.4l-3.4 3.4l-3.4-3.4zM165.1 347.9l3.4 3.4l-3.4 3.4l-3.4-3.4zM433.5 415.6l3.4 3.4l-3.4 3.4l-3.4-3.4zM435.5 390.8l3.4 3.4l-3.4 3.4l-3.4-3.4zM419.8 383.5l3.4 3.4l-3.4 3.4l-3.4-3.4zM415.6 391.1l3.4 3.4l-3.4 3.4l-3.4-3.4zM426.0 392.5l3.4 3.4l-3.4 3.4l-3.4-3.4zM404.2 420.0l3.4 3.4l-3.4 3.4l-3.4-3.4zM391.0 432.7l3.4 3.4l-3.4 3.4l-3.4-3.4zM419.7 386.9l3.4 3.4l-3.4 3.4l-3.4-3.4zM393.0 409.3l3.4 3.4l-3.4 3.4l-3.4-3.4zM420.3 426.2l3.4 3.4l-3.4 3.4l-3.4-3.4zM411.2 401.6l3.4 3.4l-3.4 3.4l-3.4-3.4zM447.5 390.5l3.4 3.4l-3.4 3.4l-3.4-3.4zM453.7 440.0l3.4 3.4l-3.4 3.4l-3.4-3.4zM454.3 444.1l3.4 3.4l-3.4 3.4l-3.4-3.4zM403.0 433.7l3.4 3.4l-3.4 3.4l-3.4-3.4zM427.8 384.9l3.4 3.4l-3.4 3.4l-3.4-3.4zM441.7 413.2l3.4 3.4l-3.4 3.4l-3.4-3.4zM390.6 437.7l3.4 3.4l-3.4 3.4l-3.4-3.4zM397.3 389.3l3.4 3.4l-3.4 3.4l-3.4-3.4zM428.1 384.1l3.4 3.4l-3.4 3.4l-3.4-3.4zM417.4 425.7l3.4 3.4l-3.4 3.4l-3.4-3.4zM391.7 421.5l3.4 3.4l-3.4 3.4l-3.4-3.4zM392.3 406.7l3.4 3.4l-3.4 3.4l-3.4-3.4zM430.5 423.6l3.4 3.4l-3.4 3.4l-3.4-3.4zM452.2 399.9l3.4 3.4l-3.4 3.4l-3.4-3.4zM414.7 398.6l3.4 3.4l-3.4 3.4l-3.4-3.4zM433.7 427.8l3.4 3.4l-3.4 3.4l-3.4-3.4zM430.5 400.8l3.4 3.4l-3.4 3.4l-3.4-3.4zM424.9 409.8l3.4 3.4l-3.4 3.4l-3.4-3.4zM398.2 444.6l3.4 3.4l-3.4 3.4l-3.4-3.4zM452.5 430.8l3.4 3.4l-3.4 3.4l-3.4-3.4zM443.7 387.9l3.4 3.4l-3.4 3.4l-3.4-3.4zM437.0 425.8l3.4 3.4l-3.4 3.4l-3.4-3.4zM450.7 435.3l3.4 3.4l-3.4 3.4l-3.4-3.4zM446.6 390.0l3.4 3.4l-3.4 3.4l-3.4-3.4zM440.1 406.6l3.4 3.4l-3.4 3.4l-3.4-3.4zM406.9 398.1l3.4 3.4l-3.4 3.4l-3.4-3.4zM440.9 436.0l3.4 3.4l-3.4 3.4l-3.4-3.4zM444.1 422.2l3.4 3.4l-3.4 3.4l-3.4-3.4zM396.9 381.1l3.4 3.4l-3.4 3.4l-3.4-3.4zM424.8 385.6l3.4 3.4l-3.4 3.4l-3.4-3.4zM408.6 376.8l3.4 3.4l-3.4 3.4l-3.4-3.4z" fill="#0a4eff"/>
<path d="M586.9 223.0l3.4 3.4l-3.4 3.4l-3.4-3.4zM597.5 277.6l3.4 3.4l-3.4 3.4l-3.4-3.4zM559.8 279.1l3.4 3.4l-3.4 3.4l-3.4-3.4zM544.5 285.1l3.4 3.4l-3.4 3.4l-3.4-3.4zM556.4 291.1l3.4 3.4l-3.4 3.4l-3.4-3.4zM561.8 296.4l3.4 3.4l-3.4 3.4l-3.4-3.4zM571.9 294.3l3.4 3.4l-3.4 3.4l-3.4-3.4zM585.4 311.0l3.4 3.4l-3.4 3.4l-3.4-3.4zM603.6 311.9l3.4 3.4l-3.4 3.4l-3.4-3.4zM603.6 317.9l3.4 3.4l-3.4 3.4l-3.4-3.4zM556.7 318.5l3.4 3.4l-3.4 3.4l-3.4-3.4zM536.8 329.8l3.4 3.4l-3.4 3.4l-3.4-3.4zM536.8 333.4l3.4 3.4l-3.4 3.4l-3.4-3.4zM544.5 335.2l3.4 3.4l-3.4 3.4l-3.4-3.4zM536.8 341.2l3.4 3.4l-3.4 3.4l-3.4-3.4zM556.4 337.9l3.4 3.4l-3.4 3.4l-3.4-3.4zM567.2 336.7l3.4 3.4l-3.4 3.4l-3.4-3.4zM592.8 336.7l3.4 3.4l-3.4 3.4l-3.4-3.4zM577.3 344.1l3.4 3.4l-3.4 3.4l-3.4-3.4zM565.4 345.9l3.4 3.4l-3.4 3.4l-3.4-3.4zM547.5 345.3l3.4 3.4l-3.4 3.4l-3.4-3.4zM545.1 346.3l3.4 3.4l-3.4 3.4l-3.4-3.4zM515.3 345.3l3.4 3.4l-3.4 3.4l-3.4-3.4zM536.8 341.4l3.4 3.4l-3.4 3.4l-3.4-3.4zM544.5 337.2l3.4 3.4l-3.4 3.4l-3.4-3.4zM556.4 339.0l3.4 3.4l-3.4 3.4l-3.4-3.4zM567.2 337.8l3.4 3.4l-3.4 3.4l-3.4-3.4zM592.8 337.8l3.4 3.4l-3.4 3.4l-3.4-3.4zM515.3 345.9l3.4 3.4l-3.4 3.4l-3.4-3.4zM511.1 359.5l3.4 3.4l-3.4 3.4l-3.4-3.4zM524.6 352.1l3.4 3.4l-3.4 3.4l-3.4-3.4zM530.8 358.1l3.4 3.4l-3.4 3.4l-3.4-3.4zM539.7 362.2l3.4 3.4l-3.4 3.4l-3.4-3.4zM543.9 347.3l3.4 3.4l-3.4 3.4l-3.4-3.4zM547.5 345.5l3.4 3.4l-3.4 3.4l-3.4-3.4zM541.5 351.5l3.4 3.4l-3.4 3.4l-3.4-3.4zM552.0 355.1l3.4 3.4l-3.4 3.4l-3.4-3.4zM562.8 355.1l3.4 3.4l-3.4 3.4l-3.4-3.4zM566.0 347.3l3.4 3.4l-3.4 3.4l-3.4-3.4zM570.4 353.3l3.4 3.4l-3.4 3.4l-3.4-3.4zM577.9 344.4l3.4 3.4l-3.4 3.4l-3.4-3.4zM583.9 358.1l3.4 3.4l-3.4 3.4l-3.4-3.4zM569.0 365.2l3.4 3.4l-3.4 3.4l-3.4-3.4zM557.6 368.2l3.4 3.4l-3.4 3.4l-3.4-3.4zM560.6 372.4l3.4 3.4l-3.4 3.4l-3.4-3.4zM564.2 371.8l3.4 3.4l-3.4 3.4l-3.4-3.4zM569.0 372.4l3.4 3.4l-3.4 3.4l-3.4-3.4zM573.1 371.2l3.4 3.4l-3.4 3.4l-3.4-3.4zM521.8 374.8l3.4 3.4l-3.4 3.4l-3.4-3.4zM533.8 370.0l3.4 3.4l-3.4 3.4l-3.4-3.4zM532.0 374.8l3.4 3.4l-3.4 3.4l-3.4-3.4zM539.1 376.0l3.4 3.4l-3.4 3.4l-3.4-3.4zM545.7 380.7l3.4 3.4l-3.4 3.4l-3.4-3.4zM560.0 383.1l3.4 3.4l-3.4 3.4l-3.4-3.4zM520.1 389.1l3.4 3.4l-3.4 3.4l-3.4-3.4zM533.2 381.9l3.4 3.4l-3.4 3.4l-3.4-3.4zM530.8 387.9l3.4 3.4l-3.4 3.4l-3.4-3.4zM535.6 389.1l3.4 3.4l-3.4 3.4l-3.4-3.4zM529.6 395.1l3.4 3.4l-3.4 3.4l-3.4-3.4zM536.8 396.2l3.4 3.4l-3.4 3.4l-3.4-3.4zM542.7 392.7l3.4 3.4l-3.4 3.4l-3.4-3.4zM548.7 392.7l3.4 3.4l-3.4 3.4l-3.4-3.4zM549.9 398.6l3.4 3.4l-3.4 3.4l-3.4-3.4zM557.0 399.8l3.4 3.4l-3.4 3.4l-3.4-3.4zM561.8 401.0l3.4 3.4l-3.4 3.4l-3.4-3.4zM564.2 407.0l3.4 3.4l-3.4 3.4l-3.4-3.4zM566.6 410.6l3.4 3.4l-3.4 3.4l-3.4-3.4zM559.4 391.5l3.4 3.4l-3.4 3.4l-3.4-3.4zM574.9 385.5l3.4 3.4l-3.4 3.4l-3.4-3.4zM571.3 392.7l3.4 3.4l-3.4 3.4l-3.4-3.4zM585.7 390.3l3.4 3.4l-3.4 3.4l-3.4-3.4zM589.2 391.5l3.4 3.4l-3.4 3.4l-3.4-3.4zM597.6 391.5l3.4 3.4l-3.4 3.4l-3.4-3.4zM606.5 397.4l3.4 3.4l-3.4 3.4l-3.4-3.4zM578.5 404.6l3.4 3.4l-3.4 3.4l-3.4-3.4zM584.5 407.0l3.4 3.4l-3.4 3.4l-3.4-3.4zM592.8 407.0l3.4 3.4l-3.4 3.4l-3.4-3.4zM594.0 402.2l3.4 3.4l-3.4 3.4l-3.4-3.4zM518.9 411.8l3.4 3.4l-3.4 3.4l-3.4-3.4zM526.0 410.6l3.4 3.4l-3.4 3.4l-3.4-3.4zM530.8 407.0l3.4 3.4l-3.4 3.4l-3.4-3.4zM534.4 412.9l3.4 3.4l-3.4 3.4l-3.4-3.4zM542.7 412.9l3.4 3.4l-3.4 3.4l-3.4-3.4zM547.5 409.4l3.4 3.4l-3.4 3.4l-3.4-3.4zM552.3 410.6l3.4 3.4l-3.4 3.4l-3.4-3.4zM575.5 403.8l3.4 3.4l-3.4 3.4l-3.4-3.4zM580.9 404.7l3.4 3.4l-3.4 3.4l-3.4-3.4zM585.3 406.4l3.4 3.4l-3.4 3.4l-3.4-3.4zM593.4 406.4l3.4 3.4l-3.4 3.4l-3.4-3.4zM594.3 401.1l3.4 3.4l-3.4 3.4l-3.4-3.4zM606.8 397.5l3.4 3.4l-3.4 3.4l-3.4-3.4zM570.1 446.7l3.4 3.4l-3.4 3.4l-3.4-3.4zM517.4 411.8l3.4 3.4l-3.4 3.4l-3.4-3.4zM512.9 427.0l3.4 3.4l-3.4 3.4l-3.4-3.4zM515.6 423.4l3.4 3.4l-3.4 3.4l-3.4-3.4zM603.4 311.5l3.4 3.4l-3.4 3.4l-3.4-3.4zM603.4 315.5l3.4 3.4l-3.4 3.4l-3.4-3.4zM593.2 337.0l3.4 3.4l-3.4 3.4l-3.4-3.4zM598.0 390.6l3.4 3.4l-3.4 3.4l-3.4-3.4zM606.6 396.8l3.4 3.4l-3.4 3.4l-3.4-3.4zM592.7 402.7l3.4 3.4l-3.4 3.4l-3.4-3.4zM594.0 407.5l3.4 3.4l-3.4 3.4l-3.4-3.4zM591.3 428.2l3.4 3.4l-3.4 3.4l-3.4-3.4zM542.2 427.0l3.4 3.4l-3.4 3.4l-3.4-3.4zM580.9 434.6l3.4 3.4l-3.4 3.4l-3.4-3.4zM528.7 445.0l3.4 3.4l-3.4 3.4l-3.4-3.4zM568.0 434.5l3.4 3.4l-3.4 3.4l-3.4-3.4zM562.1 410.8l3.4 3.4l-3.4 3.4l-3.4-3.4zM552.6 408.0l3.4 3.4l-3.4 3.4l-3.4-3.4zM577.4 440.4l3.4 3.4l-3.4 3.4l-3.4-3.4zM563.8 428.0l3.4 3.4l-3.4 3.4l-3.4-3.4zM512.7 441.9l3.4 3.4l-3.4 3.4l-3.4-3.4zM553.3 415.5l3.4 3.4l-3.4 3.4l-3.4-3.4zM536.4 436.3l3.4 3.4l-3.4 3.4l-3.4-3.4zM572.4 441.8l3.4 3.4l-3.4 3.4l-3.4-3.4zM526.2 408.2l3.4 3.4l-3.4 3.4l-3.4-3.4zM546.4 412.1l3.4 3.4l-3.4 3.4l-3.4-3.4zM534.0 426.8l3.4 3.4l-3.4 3.4l-3.4-3.4zM581.9 433.2l3.4 3.4l-3.4 3.4l-3.4-3.4zM534.1 442.1l3.4 3.4l-3.4 3.4l-3.4-3.4zM555.4 393.3l3.4 3.4l-3.4 3.4l-3.4-3.4zM556.6 439.3l3.4 3.4l-3.4 3.4l-3.4-3.4zM551.0 417.3l3.4 3.4l-3.4 3.4l-3.4-3.4zM542.7 442.5l3.4 3.4l-3.4 3.4l-3.4-3.4zM562.9 399.8l3.4 3.4l-3.4 3.4l-3.4-3.4zM538.3 409.7l3.4 3.4l-3.4 3.4l-3.4-3.4zM519.0 444.7l3.4 3.4l-3.4 3.4l-3.4-3.4zM544.0 432.2l3.4 3.4l-3.4 3.4l-3.4-3.4zM543.7 392.5l3.4 3.4l-3.4 3.4l-3.4-3.4zM551.4 438.7l3.4 3.4l-3.4 3.4l-3.4-3.4zM526.9 433.9l3.4 3.4l-3.4 3.4l-3.4-3.4zM544.0 410.8l3.4 3.4l-3.4 3.4l-3.4-3.4zM566.5 445.6l3.4 3.4l-3.4 3.4l-3.4-3.4zM535.6 433.1l3.4 3.4l-3.4 3.4l-3.4-3.4zM524.0 421.3l3.4 3.4l-3.4 3.4l-3.4-3.4zM549.5 429.0l3.4 3.4l-3.4 3.4l-3.4-3.4zM520.4 447.3l3.4 3.4l-3.4 3.4l-3.4-3.4zM570.5 441.7l3.4 3.4l-3.4 3.4l-3.4-3.4zM538.2 445.3l3.4 3.4l-3.4 3.4l-3.4-3.4zM549.6 443.7l3.4 3.4l-3.4 3.4l-3.4-3.4zM550.3 445.8l3.4 3.4l-3.4 3.4l-3.4-3.4zM554.3 395.7l3.4 3.4l-3.4 3.4l-3.4-3.4zM560.1 437.6l3.4 3.4l-3.4 3.4l-3.4-3.4zM543.3 424.8l3.4 3.4l-3.4 3.4l-3.4-3.4zM529.9 404.1l3.4 3.4l-3.4 3.4l-3.4-3.4zM543.0 419.2l3.4 3.4l-3.4 3.4l-3.4-3.4zM546.9 392.5l3.4 3.4l-3.4 3.4l-3.4-3.4zM567.1 434.1l3.4 3.4l-3.4 3.4l-3.4-3.4zM528.1 402.8l3.4 3.4l-3.4 3.4l-3.4-3.4zM550.8 397.7l3.4 3.4l-3.4 3.4l-3.4-3.4zM557.8 444.0l3.4 3.4l-3.4 3.4l-3.4-3.4zM525.2 423.8l3.4 3.4l-3.4 3.4l-3.4-3.4zM567.4 434.2l3.4 3.4l-3.4 3.4l-3.4-3.4zM566.7 431.7l3.4 3.4l-3.4 3.4l-3.4-3.4zM531.0 439.8l3.4 3.4l-3.4 3.4l-3.4-3.4zM573.6 429.6l3.4 3.4l-3.4 3.4l-3.4-3.4zM520.4 415.8l3.4 3.4l-3.4 3.4l-3.4-3.4zM560.7 449.9l3.4 3.4l-3.4 3.4l-3.4-3.4zM536.1 435.3l3.4 3.4l-3.4 3.4l-3.4-3.4zM521.9 412.6l3.4 3.4l-3.4 3.4l-3.4-3.4zM559.1 405.9l3.4 3.4l-3.4 3.4l-3.4-3.4zM534.5 418.6l3.4 3.4l-3.4 3.4l-3.4-3.4zM523.7 417.1l3.4 3.4l-3.4 3.4l-3.4-3.4zM544.6 448.4l3.4 3.4l-3.4 3.4l-3.4-3.4zM548.3 446.6l3.4 3.4l-3.4 3.4l-3.4-3.4zM547.1 399.2l3.4 3.4l-3.4 3.4l-3.4-3.4zM556.9 395.8l3.4 3.4l-3.4 3.4l-3.4-3.4zM565.8 448.0l3.4 3.4l-3.4 3.4l-3.4-3.4zM541.6 409.1l3.4 3.4l-3.4 3.4l-3.4-3.4zM543.4 409.0l3.4 3.4l-3.4 3.4l-3.4-3.4zM565.0 411.5l3.4 3.4l-3.4 3.4l-3.4-3.4zM521.2 441.5l3.4 3.4l-3.4 3.4l-3.4-3.4zM577.9 432.9l3.4 3.4l-3.4 3.4l-3.4-3.4zM537.6 426.6l3.4 3.4l-3.4 3.4l-3.4-3.4zM544.0 405.5l3.4 3.4l-3.4 3.4l-3.4-3.4zM553.9 428.7l3.4 3.4l-3.4 3.4l-3.4-3.4zM568.6 446.9l3.4 3.4l-3.4 3.4l-3.4-3.4zM578.0 436.8l3.4 3.4l-3.4 3.4l-3.4-3.4zM556.8 429.6l3.4 3.4l-3.4 3.4l-3.4-3.4zM536.4 446.6l3.4 3.4l-3.4 3.4l-3.4-3.4zM553.5 412.2l3.4 3.4l-3.4 3.4l-3.4-3.4zM547.8 418.1l3.4 3.4l-3.4 3.4l-3.4-3.4zM538.3 443.4l3.4 3.4l-3.4 3.4l-3.4-3.4zM537.2 420.4l3.4 3.4l-3.4 3.4l-3.4-3.4zM584.4 427.2l3.4 3.4l-3.4 3.4l-3.4-3.4zM547.6 407.7l3.4 3.4l-3.4 3.4l-3.4-3.4zM540.3 425.3l3.4 3.4l-3.4 3.4l-3.4-3.4zM538.9 411.2l3.4 3.4l-3.4 3.4l-3.4-3.4zM538.3 444.6l3.4 3.4l-3.4 3.4l-3.4-3.4zM552.6 404.1l3.4 3.4l-3.4 3.4l-3.4-3.4zM535.8 438.8l3.4 3.4l-3.4 3.4l-3.4-3.4zM521.8 430.4l3.4 3.4l-3.4 3.4l-3.4-3.4zM513.6 437.8l3.4 3.4l-3.4 3.4l-3.4-3.4zM568.4 432.3l3.4 3.4l-3.4 3.4l-3.4-3.4zM553.6 445.1l3.4 3.4l-3.4 3.4l-3.4-3.4zM516.1 445.3l3.4 3.4l-3.4 3.4l-3.4-3.4zM544.1 398.9l3.4 3.4l-3.4 3.4l-3.4-3.4zM569.6 441.1l3.4 3.4l-3.4 3.4l-3.4-3.4zM540.2 392.5l3.4 3.4l-3.4 3.4l-3.4-3.4zM579.8 434.4l3.4 3.4l-3.4 3.4l-3.4-3.4zM557.3 448.6l3.4 3.4l-3.4 3.4l-3.4-3.4zM566.4 426.6l3.4 3.4l-3.4 3.4l-3.4-3.4zM523.5 425.3l3.4 3.4l-3.4 3.4l-3.4-3.4zM563.5 448.2l3.4 3.4l-3.4 3.4l-3.4-3.4zM538.1 448.8l3.4 3.4l-3.4 3.4l-3.4-3.4zM544.1 411.4l3.4 3.4l-3.4 3.4l-3.4-3.4zM529.4 401.4l3.4 3.4l-3.4 3.4l-3.4-3.4zM537.3 433.4l3.4 3.4l-3.4 3.4l-3.4-3.4zM544.5 436.8l3.4 3.4l-3.4 3.4l-3.4-3.4zM555.6 415.3l3.4 3.4l-3.4 3.4l-3.4-3.4zM580.5 424.8l3.4 3.4l-3.4 3.4l-3.4-3.4zM536.2 411.7l3.4 3.4l-3.4 3.4l-3.4-3.4zM540.0 430.5l3.4 3.4l-3.4 3.4l-3.4-3.4zM509.2 437.5l3.4 3.4l-3.4 3.4l-3.4-3.4zM572.7 419.3l3.4 3.4l-3.4 3.4l-3.4-3.4zM509.3 437.3l3.4 3.4l-3.4 3.4l-3.4-3.4zM542.5 429.1l3.4 3.4l-3.4 3.4l-3.4-3.4zM555.1 432.9l3.4 3.4l-3.4 3.4l-3.4-3.4zM542.0 447.6l3.4 3.4l-3.4 3.4l-3.4-3.4zM558.8 406.7l3.4 3.4l-3.4 3.4l-3.4-3.4zM539.4 403.7l3.4 3.4l-3.4 3.4l-3.4-3.4zM572.9 438.7l3.4 3.4l-3.4 3.4l-3.4-3.4zM534.7 434.7l3.4 3.4l-3.4 3.4l-3.4-3.4zM530.1 425.4l3.4 3.4l-3.4 3.4l-3.4-3.4zM521.7 441.1l3.4 3.4l-3.4 3.4l-3.4-3.4zM548.5 404.1l3.4 3.4l-3.4 3.4l-3.4-3.4zM520.9 434.9l3.4 3.4l-3.4 3.4l-3.4-3.4zM555.4 444.2l3.4 3.4l-3.4 3.4l-3.4-3.4zM556.5 413.7l3.4 3.4l-3.4 3.4l-3.4-3.4zM531.3 393.8l3.4 3.4l-3.4 3.4l-3.4-3.4zM568.2 427.8l3.4 3.4l-3.4 3.4l-3.4-3.4zM562.0 404.2l3.4 3.4l-3.4 3.4l-3.4-3.4zM538.9 445.0l3.4 3.4l-3.4 3.4l-3.4-3.4zM543.5 422.9l3.4 3.4l-3.4 3.4l-3.4-3.4zM574.5 434.8l3.4 3.4l-3.4 3.4l-3.4-3.4zM545.9 441.4l3.4 3.4l-3.4 3.4l-3.4-3.4zM541.4 446.9l3.4 3.4l-3.4 3.4l-3.4-3.4zM547.2 394.1l3.4 3.4l-3.4 3.4l-3.4-3.4zM560.6 410.5l3.4 3.4l-3.4 3.4l-3.4-3.4zM529.1 438.3l3.4 3.4l-3.4 3.4l-3.4-3.4zM515.9 440.7l3.4 3.4l-3.4 3.4l-3.4-3.4zM546.6 416.4l3.4 3.4l-3.4 3.4l-3.4-3.4zM567.2 432.9l3.4 3.4l-3.4 3.4l-3.4-3.4zM536.7 445.8l3.4 3.4l-3.4 3.4l-3.4-3.4zM523.9 418.4l3.4 3.4l-3.4 3.4l-3.4-3.4zM536.1 397.0l3.4 3.4l-3.4 3.4l-3.4-3.4zM582.5 425.5l3.4 3.4l-3.4 3.4l-3.4-3.4zM560.1 420.4l3.4 3.4l-3.4 3.4l-3.4-3.4zM516.8 444.6l3.4 3.4l-3.4 3.4l-3.4-3.4zM574.3 429.9l3.4 3.4l-3.4 3.4l-3.4-3.4zM546.5 438.9l3.4 3.4l-3.4 3.4l-3.4-3.4zM521.8 430.0l3.4 3.4l-3.4 3.4l-3.4-3.4zM553.8 412.3l3.4 3.4l-3.4 3.4l-3.4-3.4zM547.0 417.9l3.4 3.4l-3.4 3.4l-3.4-3.4zM530.6 409.9l3.4 3.4l-3.4 3.4l-3.4-3.4zM553.8 435.0l3.4 3.4l-3.4 3.4l-3.4-3.4zM556.7 396.9l3.4 3.4l-3.4 3.4l-3.4-3.4zM520.2 423.6l3.4 3.4l-3.4 3.4l-3.4-3.4zM553.3 406.5l3.4 3.4l-3.4 3.4l-3.4-3.4zM560.0 422.4l3.4 3.4l-3.4 3.4l-3.4-3.4zM585.9 430.1l3.4 3.4l-3.4 3.4l-3.4-3.4zM538.3 446.9l3.4 3.4l-3.4 3.4l-3.4-3.4zM560.3 421.1l3.4 3.4l-3.4 3.4l-3.4-3.4zM578.9 429.1l3.4 3.4l-3.4 3.4l-3.4-3.4zM538.1 425.0l3.4 3.4l-3.4 3.4l-3.4-3.4zM533.2 448.1l3.4 3.4l-3.4 3.4l-3.4-3.4zM528.7 448.4l3.4 3.4l-3.4 3.4l-3.4-3.4zM553.8 399.7l3.4 3.4l-3.4 3.4l-3.4-3.4zM550.1 394.1l3.4 3.4l-3.4 3.4l-3.4-3.4zM576.8 429.1l3.4 3.4l-3.4 3.4l-3.4-3.4zM564.4 445.4l3.4 3.4l-3.4 3.4l-3.4-3.4zM542.6 443.9l3.4 3.4l-3.4 3.4l-3.4-3.4zM556.7 438.9l3.4 3.4l-3.4 3.4l-3.4-3.4zM523.4 439.5l3.4 3.4l-3.4 3.4l-3.4-3.4zM517.1 445.8l3.4 3.4l-3.4 3.4l-3.4-3.4zM530.5 442.5l3.4 3.4l-3.4 3.4l-3.4-3.4zM550.7 407.1l3.4 3.4l-3.4 3.4l-3.4-3.4zM517.8 434.0l3.4 3.4l-3.4 3.4l-3.4-3.4zM530.8 396.0l3.4 3.4l-3.4 3.4l-3.4-3.4zM538.4 428.6l3.4 3.4l-3.4 3.4l-3.4-3.4zM567.8 421.6l3.4 3.4l-3.4 3.4l-3.4-3.4zM538.0 443.8l3.4 3.4l-3.4 3.4l-3.4-3.4zM556.6 437.5l3.4 3.4l-3.4 3.4l-3.4-3.4zM521.8 418.5l3.4 3.4l-3.4 3.4l-3.4-3.4zM555.5 422.2l3.4 3.4l-3.4 3.4l-3.4-3.4zM542.4 421.1l3.4 3.4l-3.4 3.4l-3.4-3.4zM543.2 401.6l3.4 3.4l-3.4 3.4l-3.4-3.4zM540.3 407.9l3.4 3.4l-3.4 3.4l-3.4-3.4zM563.3 439.6l3.4 3.4l-3.4 3.4l-3.4-3.4zM545.6 418.5l3.4 3.4l-3.4 3.4l-3.4-3.4zM583.9 425.0l3.4 3.4l-3.4 3.4l-3.4-3.4zM516.0 427.8l3.4 3.4l-3.4 3.4l-3.4-3.4zM543.2 406.2l3.4 3.4l-3.4 3.4l-3.4-3.4zM550.4 446.1l3.4 3.4l-3.4 3.4l-3.4-3.4zM533.6 407.2l3.4 3.4l-3.4 3.4l-3.4-3.4zM582.8 431.4l3.4 3.4l-3.4 3.4l-3.4-3.4zM543.7 397.1l3.4 3.4l-3.4 3.4l-3.4-3.4zM577.7 427.7l3.4 3.4l-3.4 3.4l-3.4-3.4zM521.5 426.3l3.4 3.4l-3.4 3.4l-3.4-3.4zM536.1 393.1l3.4 3.4l-3.4 3.4l-3.4-3.4zM569.2 432.1l3.4 3.4l-3.4 3.4l-3.4-3.4zM550.3 397.3l3.4 3.4l-3.4 3.4l-3.4-3.4zM563.2 414.1l3.4 3.4l-3.4 3.4l-3.4-3.4zM526.9 411.9l3.4 3.4l-3.4 3.4l-3.4-3.4zM564.7 449.7l3.4 3.4l-3.4 3.4l-3.4-3.4zM536.0 403.5l3.4 3.4l-3.4 3.4l-3.4-3.4zM563.3 400.7l3.4 3.4l-3.4 3.4l-3.4-3.4zM541.4 430.3l3.4 3.4l-3.4 3.4l-3.4-3.4zM543.8 396.5l3.4 3.4l-3.4 3.4l-3.4-3.4zM516.9 418.5l3.4 3.4l-3.4 3.4l-3.4-3.4zM548.5 398.9l3.4 3.4l-3.4 3.4l-3.4-3.4zM563.3 418.1l3.4 3.4l-3.4 3.4l-3.4-3.4zM547.3 395.6l3.4 3.4l-3.4 3.4l-3.4-3.4zM548.1 394.7l3.4 3.4l-3.4 3.4l-3.4-3.4zM564.5 430.9l3.4 3.4l-3.4 3.4l-3.4-3.4zM555.8 448.6l3.4 3.4l-3.4 3.4l-3.4-3.4zM512.5 432.0l3.4 3.4l-3.4 3.4l-3.4-3.4zM535.0 390.0l3.4 3.4l-3.4 3.4l-3.4-3.4zM556.2 432.5l3.4 3.4l-3.4 3.4l-3.4-3.4zM537.1 430.8l3.4 3.4l-3.4 3.4l-3.4-3.4zM538.6 431.8l3.4 3.4l-3.4 3.4l-3.4-3.4zM531.3 448.7l3.4 3.4l-3.4 3.4l-3.4-3.4zM516.2 432.7l3.4 3.4l-3.4 3.4l-3.4-3.4zM579.1 427.0l3.4 3.4l-3.4 3.4l-3.4-3.4zM521.4 442.0l3.4 3.4l-3.4 3.4l-3.4-3.4zM539.7 429.2l3.4 3.4l-3.4 3.4l-3.4-3.4zM537.6 442.1l3.4 3.4l-3.4 3.4l-3.4-3.4zM579.1 424.0l3.4 3.4l-3.4 3.4l-3.4-3.4zM587.6 427.5l3.4 3.4l-3.4 3.4l-3.4-3.4zM524.8 419.5l3.4 3.4l-3.4 3.4l-3.4-3.4zM548.1 408.0l3.4 3.4l-3.4 3.4l-3.4-3.4zM539.2 419.0l3.4 3.4l-3.4 3.4l-3.4-3.4zM556.6 400.7l3.4 3.4l-3.4 3.4l-3.4-3.4zM531.4 418.5l3.4 3.4l-3.4 3.4l-3.4-3.4zM549.8 413.2l3.4 3.4l-3.4 3.4l-3.4-3.4zM552.0 404.1l3.4 3.4l-3.4 3.4l-3.4-3.4zM571.4 431.3l3.4 3.4l-3.4 3.4l-3.4-3.4zM572.3 419.5l3.4 3.4l-3.4 3.4l-3.4-3.4zM529.0 445.4l3.4 3.4l-3.4 3.4l-3.4-3.4zM550.3 410.4l3.4 3.4l-3.4 3.4l-3.4-3.4zM532.4 412.1l3.4 3.4l-3.4 3.4l-3.4-3.4zM566.4 438.6l3.4 3.4l-3.4 3.4l-3.4-3.4zM548.0 433.0l3.4 3.4l-3.4 3.4l-3.4-3.4zM526.1 415.3l3.4 3.4l-3.4 3.4l-3.4-3.4zM537.9 406.1l3.4 3.4l-3.4 3.4l-3.4-3.4zM538.0 434.5l3.4 3.4l-3.4 3.4l-3.4-3.4zM527.8 436.4l3.4 3.4l-3.4 3.4l-3.4-3.4zM562.0 429.5l3.4 3.4l-3.4 3.4l-3.4-3.4zM560.4 430.6l3.4 3.4l-3.4 3.4l-3.4-3.4zM538.1 388.7l3.4 3.4l-3.4 3.4l-3.4-3.4zM563.3 448.0l3.4 3.4l-3.4 3.4l-3.4-3.4zM536.2 393.5l3.4 3.4l-3.4 3.4l-3.4-3.4zM573.5 433.4l3.4 3.4l-3.4 3.4l-3.4-3.4zM548.4 410.0l3.4 3.4l-3.4 3.4l-3.4-3.4zM530.7 417.5l3.4 3.4l-3.4 3.4l-3.4-3.4zM566.7 443.5l3.4 3.4l-3.4 3.4l-3.4-3.4zM544.5 413.3l3.4 3.4l-3.4 3.4l-3.4-3.4zM534.3 448.5l3.4 3.4l-3.4 3.4l-3.4-3.4zM531.6 445.2l3.4 3.4l-3.4 3.4l-3.4-3.4zM543.5 398.8l3.4 3.4l-3.4 3.4l-3.4-3.4zM518.5 443.9l3.4 3.4l-3.4 3.4l-3.4-3.4zM544.5 411.8l3.4 3.4l-3.4 3.4l-3.4-3.4zM557.2 402.8l3.4 3.4l-3.4 3.4l-3.4-3.4zM539.0 434.9l3.4 3.4l-3.4 3.4l-3.4-3.4zM535.9 429.8l3.4 3.4l-3.4 3.4l-3.4-3.4zM559.6 398.6l3.4 3.4l-3.4 3.4l-3.4-3.4zM558.5 405.3l3.4 3.4l-3.4 3.4l-3.4-3.4zM525.1 440.9l3.4 3.4l-3.4 3.4l-3.4-3.4zM556.4 423.1l3.4 3.4l-3.4 3.4l-3.4-3.4zM535.2 427.5l3.4 3.4l-3.4 3.4l-3.4-3.4zM557.7 419.0l3.4 3.4l-3.4 3.4l-3.4-3.4zM534.1 413.0l3.4 3.4l-3.4 3.4l-3.4-3.4zM538.3 443.9l3.4 3.4l-3.4 3.4l-3.4-3.4zM518.2 449.2l3.4 3.4l-3.4 3.4l-3.4-3.4zM528.3 441.0l3.4 3.4l-3.4 3.4l-3.4-3.4zM528.6 423.9l3.4 3.4l-3.4 3.4l-3.4-3.4zM539.5 389.0l3.4 3.4l-3.4 3.4l-3.4-3.4zM573.5 438.1l3.4 3.4l-3.4 3.4l-3.4-3.4zM530.7 435.9l3.4 3.4l-3.4 3.4l-3.4-3.4zM547.8 449.3l3.4 3.4l-3.4 3.4l-3.4-3.4zM527.3 426.3l3.4 3.4l-3.4 3.4l-3.4-3.4zM572.0 440.1l3.4 3.4l-3.4 3.4l-3.4-3.4zM553.4 411.2l3.4 3.4l-3.4 3.4l-3.4-3.4zM529.9 434.4l3.4 3.4l-3.4 3.4l-3.4-3.4zM544.6 449.7l3.4 3.4l-3.4 3.4l-3.4-3.4zM538.8 414.1l3.4 3.4l-3.4 3.4l-3.4-3.4zM550.1 405.0l3.4 3.4l-3.4 3.4l-3.4-3.4zM565.9 419.4l3.4 3.4l-3.4 3.4l-3.4-3.4zM550.3 418.0l3.4 3.4l-3.4 3.4l-3.4-3.4zM539.0 441.3l3.4 3.4l-3.4 3.4l-3.4-3.4zM525.8 442.3l3.4 3.4l-3.4 3.4l-3.4-3.4zM537.9 407.9l3.4 3.4l-3.4 3.4l-3.4-3.4zM558.8 422.4l3.4 3.4l-3.4 3.4l-3.4-3.4zM531.9 392.0l3.4 3.4l-3.4 3.4l-3.4-3.4zM518.1 428.3l3.4 3.4l-3.4 3.4l-3.4-3.4zM552.1 407.4l3.4 3.4l-3.4 3.4l-3.4-3.4zM535.5 440.3l3.4 3.4l-3.4 3.4l-3.4-3.4zM536.3 413.1l3.4 3.4l-3.4 3.4l-3.4-3.4zM541.5 396.9l3.4 3.4l-3.4 3.4l-3.4-3.4zM562.7 428.8l3.4 3.4l-3.4 3.4l-3.4-3.4zM545.1 412.4l3.4 3.4l-3.4 3.4l-3.4-3.4zM527.7 436.8l3.4 3.4l-3.4 3.4l-3.4-3.4zM546.0 439.4l3.4 3.4l-3.4 3.4l-3.4-3.4zM539.3 433.2l3.4 3.4l-3.4 3.4l-3.4-3.4zM586.9 429.9l3.4 3.4l-3.4 3.4l-3.4-3.4zM563.7 418.2l3.4 3.4l-3.4 3.4l-3.4-3.4zM547.2 399.1l3.4 3.4l-3.4 3.4l-3.4-3.4zM522.9 427.6l3.4 3.4l-3.4 3.4l-3.4-3.4zM565.2 403.0l3.4 3.4l-3.4 3.4l-3.4-3.4zM558.6 397.5l3.4 3.4l-3.4 3.4l-3.4-3.4zM550.2 406.5l3.4 3.4l-3.4 3.4l-3.4-3.4zM553.6 395.1l3.4 3.4l-3.4 3.4l-3.4-3.4zM548.1 425.8l3.4 3.4l-3.4 3.4l-3.4-3.4zM564.0 421.3l3.4 3.4l-3.4 3.4l-3.4-3.4zM558.9 436.1l3.4 3.4l-3.4 3.4l-3.4-3.4zM555.3 400.7l3.4 3.4l-3.4 3.4l-3.4-3.4zM544.8 439.3l3.4 3.4l-3.4 3.4l-3.4-3.4zM554.9 434.4l3.4 3.4l-3.4 3.4l-3.4-3.4zM538.4 415.1l3.4 3.4l-3.4 3.4l-3.4-3.4zM510.1 443.1l3.4 3.4l-3.4 3.4l-3.4-3.4zM544.6 439.3l3.4 3.4l-3.4 3.4l-3.4-3.4zM564.8 420.4l3.4 3.4l-3.4 3.4l-3.4-3.4zM531.5 445.0l3.4 3.4l-3.4 3.4l-3.4-3.4zM516.2 445.3l3.4 3.4l-3.4 3.4l-3.4-3.4zM553.7 425.5l3.4 3.4l-3.4 3.4l-3.4-3.4zM565.7 416.1l3.4 3.4l-3.4 3.4l-3.4-3.4zM524.8 447.3l3.4 3.4l-3.4 3.4l-3.4-3.4zM531.7 433.9l3.4 3.4l-3.4 3.4l-3.4-3.4zM565.3 411.8l3.4 3.4l-3.4 3.4l-3.4-3.4zM550.3 418.4l3.4 3.4l-3.4 3.4l-3.4-3.4zM511.0 434.5l3.4 3.4l-3.4 3.4l-3.4-3.4zM569.4 442.2l3.4 3.4l-3.4 3.4l-3.4-3.4zM537.8 399.9l3.4 3.4l-3.4 3.4l-3.4-3.4zM537.0 433.1l3.4 3.4l-3.4 3.4l-3.4-3.4zM562.3 412.4l3.4 3.4l-3.4 3.4l-3.4-3.4zM551.5 396.4l3.4 3.4l-3.4 3.4l-3.4-3.4zM550.0 436.6l3.4 3.4l-3.4 3.4l-3.4-3.4zM524.9 432.5l3.4 3.4l-3.4 3.4l-3.4-3.4zM537.5 438.2l3.4 3.4l-3.4 3.4l-3.4-3.4zM560.5 417.2l3.4 3.4l-3.4 3.4l-3.4-3.4zM539.4 423.3l3.4 3.4l-3.4 3.4l-3.4-3.4zM526.5 414.4l3.4 3.4l-3.4 3.4l-3.4-3.4zM509.0 437.3l3.4 3.4l-3.4 3.4l-3.4-3.4zM529.4 439.4l3.4 3.4l-3.4 3.4l-3.4-3.4zM553.7 424.8l3.4 3.4l-3.4 3.4l-3.4-3.4zM578.9 436.5l3.4 3.4l-3.4 3.4l-3.4-3.4zM563.9 438.4l3.4 3.4l-3.4 3.4l-3.4-3.4zM544.3 429.4l3.4 3.4l-3.4 3.4l-3.4-3.4zM550.2 396.1l3.4 3.4l-3.4 3.4l-3.4-3.4zM526.8 441.6l3.4 3.4l-3.4 3.4l-3.4-3.4zM540.3 396.1l3.4 3.4l-3.4 3.4l-3.4-3.4zM523.7 423.3l3.4 3.4l-3.4 3.4l-3.4-3.4zM524.2 416.8l3.4 3.4l-3.4 3.4l-3.4-3.4zM552.5 414.5l3.4 3.4l-3.4 3.4l-3.4-3.4zM549.8 439.7l3.4 3.4l-3.4 3.4l-3.4-3.4zM510.2 445.7l3.4 3.4l-3.4 3.4l-3.4-3.4zM571.2 422.8l3.4 3.4l-3.4 3.4l-3.4-3.4zM552.5 400.4l3.4 3.4l-3.4 3.4l-3.4-3.4zM555.4 427.8l3.4 3.4l-3.4 3.4l-3.4-3.4zM539.0 417.1l3.4 3.4l-3.4 3.4l-3.4-3.4zM514.1 427.5l3.4 3.4l-3.4 3.4l-3.4-3.4zM553.6 433.1l3.4 3.4l-3.4 3.4l-3.4-3.4zM517.0 439.9l3.4 3.4l-3.4 3.4l-3.4-3.4zM548.6 402.5l3.4 3.4l-3.4 3.4l-3.4-3.4zM533.2 415.9l3.4 3.4l-3.4 3.4l-3.4-3.4zM539.0 436.7l3.4 3.4l-3.4 3.4l-3.4-3.4zM535.6 393.5l3.4 3.4l-3.4 3.4l-3.4-3.4zM565.5 436.2l3.4 3.4l-3.4 3.4l-3.4-3.4zM511.8 434.7l3.4 3.4l-3.4 3.4l-3.4-3.4zM542.3 445.7l3.4 3.4l-3.4 3.4l-3.4-3.4zM540.7 406.4l3.4 3.4l-3.4 3.4l-3.4-3.4zM514.7 446.8l3.4 3.4l-3.4 3.4l-3.4-3.4zM550.4 414.6l3.4 3.4l-3.4 3.4l-3.4-3.4zM544.3 435.4l3.4 3.4l-3.4 3.4l-3.4-3.4zM523.3 412.4l3.4 3.4l-3.4 3.4l-3.4-3.4zM562.5 422.1l3.4 3.4l-3.4 3.4l-3.4-3.4zM546.3 423.1l3.4 3.4l-3.4 3.4l-3.4-3.4zM528.7 422.0l3.4 3.4l-3.4 3.4l-3.4-3.4zM571.0 387.2l3.4 3.4l-3.4 3.4l-3.4-3.4zM523.4 364.4l3.4 3.4l-3.4 3.4l-3.4-3.4zM579.2 393.9l3.4 3.4l-3.4 3.4l-3.4-3.4zM573.9 389.0l3.4 3.4l-3.4 3.4l-3.4-3.4zM513.0 374.1l3.4 3.4l-3.4 3.4l-3.4-3.4zM542.0 384.8l3.4 3.4l-3.4 3.4l-3.4-3.4zM543.2 352.5l3.4 3.4l-3.4 3.4l-3.4-3.4zM563.2 399.3l3.4 3.4l-3.4 3.4l-3.4-3.4zM513.3 393.6l3.4 3.4l-3.4 3.4l-3.4-3.4zM546.2 356.1l3.4 3.4l-3.4 3.4l-3.4-3.4zM548.8 378.2l3.4 3.4l-3.4 3.4l-3.4-3.4zM550.7 352.1l3.4 3.4l-3.4 3.4l-3.4-3.4zM561.0 364.4l3.4 3.4l-3.4 3.4l-3.4-3.4zM552.6 359.4l3.4 3.4l-3.4 3.4l-3.4-3.4zM572.9 401.0l3.4 3.4l-3.4 3.4l-3.4-3.4zM537.6 351.3l3.4 3.4l-3.4 3.4l-3.4-3.4zM514.9 374.6l3.4 3.4l-3.4 3.4l-3.4-3.4zM537.4 354.2l3.4 3.4l-3.4 3.4l-3.4-3.4zM560.7 373.0l3.4 3.4l-3.4 3.4l-3.4-3.4zM550.8 346.0l3.4 3.4l-3.4 3.4l-3.4-3.4zM539.9 384.1l3.4 3.4l-3.4 3.4l-3.4-3.4zM512.7 369.6l3.4 3.4l-3.4 3.4l-3.4-3.4zM523.0 376.3l3.4 3.4l-3.4 3.4l-3.4-3.4zM519.5 357.1l3.4 3.4l-3.4 3.4l-3.4-3.4zM560.5 353.1l3.4 3.4l-3.4 3.4l-3.4-3.4zM535.0 360.3l3.4 3.4l-3.4 3.4l-3.4-3.4zM568.2 403.1l3.4 3.4l-3.4 3.4l-3.4-3.4z" fill="#ff0000"/>
<g stroke="#000" stroke-width="2" fill="none" stroke-dasharray="6 4.4 1.8 4.4">
<line x1="454.2" y1="52" x2="454.2" y2="580.5"/>
<line x1="507.3" y1="52" x2="507.3" y2="580.5"/>
<line x1="87.5" y1="453.6" x2="878.7" y2="453.6"/>
</g>
<g stroke="#111" stroke-width="1.1" fill="none">
<circle cx="557.1" cy="294.6" r="6.4"/>
<circle cx="556.4" cy="341.4" r="6.4"/>
<circle cx="514.1" cy="429.2" r="6.4"/>
<circle cx="550.4" cy="397.7" r="6.4"/>
<circle cx="561.1" cy="404.0" r="6.4"/>
<line x1="554.6" y1="246.5" x2="554.6" y2="287.8"/>
<line x1="563.8" y1="333.1" x2="620.3" y2="315.2"/>
<line x1="515.3" y1="330.2" x2="515.3" y2="422.5"/>
<line x1="556" y1="390.5" x2="583.9" y2="377.1"/>
<line x1="568.2" y1="404.6" x2="613" y2="404.6"/>
</g>
<text transform="translate(146.30,88.40) scale(0.9850,1)" font-size="33" text-anchor="start" fill="#000" font-weight="normal" >Down</text>
<text transform="translate(147.90,124.40) scale(0.9750,1)" font-size="32.6" text-anchor="start" fill="#000" font-weight="normal" >Stable</text>
<text transform="translate(149.90,159.50) scale(0.9500,1)" font-size="32.6" text-anchor="start" fill="#000" font-weight="normal" >Up</text>
<text transform="translate(70.50,83.50) scale(1.0000,1)" font-size="29" text-anchor="end" fill="#3a3a3a" font-weight="normal" >6</text>
<text transform="translate(70.50,245.80) scale(1.0000,1)" font-size="29" text-anchor="end" fill="#3a3a3a" font-weight="normal" >4</text>
<text transform="translate(70.50,407.80) scale(1.0000,1)" font-size="29" text-anchor="end" fill="#3a3a3a" font-weight="normal" >2</text>
<text transform="translate(70.50,569.00) scale(1.0000,1)" font-size="29" text-anchor="end" fill="#3a3a3a" font-weight="normal" >0</text>
<text transform="translate(271.50,616.30) scale(1.0000,1)" font-size="29" text-anchor="middle" fill="#3a3a3a" font-weight="normal" >-4</text>
<text transform="translate(480.80,616.30) scale(1.0000,1)" font-size="29" text-anchor="middle" fill="#3a3a3a" font-weight="normal" >0</text>
<text transform="translate(686.40,616.30) scale(1.0000,1)" font-size="29" text-anchor="middle" fill="#3a3a3a" font-weight="normal" >4</text>
<text transform="translate(534.20,241.70) scale(1.0000,1)" font-size="33" text-anchor="start" fill="#ff0000" font-weight="normal" >C3</text>
<text transform="translate(487.00,316.30) scale(1.0000,1)" font-size="33" text-anchor="start" fill="#ff0000" font-weight="normal" >CLU</text>
<text transform="translate(619.00,314.70) scale(0.9600,1)" font-size="33" text-anchor="start" fill="#ff0000" font-weight="normal" >NE</text>
<text transform="translate(585.60,378.00) scale(0.9900,1)" font-size="33" text-anchor="start" fill="#ff0000" font-weight="normal" >CFB</text>
<text transform="translate(619.90,415.00) scale(0.9800,1)" font-size="33" text-anchor="start" fill="#ff0000" font-weight="normal" >CALR</text>
<path d="M134.6 77.2l3.5 3.5l-3.5 3.5l-3.5-3.5z" fill="#0a4eff"/>
<path d="M134.6 111.8l3.5 3.5l-3.5 3.5l-3.5-3.5z" fill="#7f7f7f"/>
<path d="M134.6 146.9l3.5 3.5l-3.5 3.5l-3.5-3.5z" fill="#ff0000"/>
<text transform="translate(349.5,655.0) scale(1.0,1)" font-size="37.2" fill="#000">Log<tspan font-size="22.3" dy="11.2">2</tspan><tspan dy="-11.2">FoldChange</tspan></text>
<text transform="translate(36,432.9) rotate(-90) scale(1.0,1)" font-size="36" fill="#000">-Log<tspan font-size="20.2" dy="11.5">10</tspan><tspan dy="-11.5" dx="-3" font-style="italic">P</tspan> value</text>
<g stroke="#ebebeb" stroke-width="1.6">
<line x1="1456.8" y1="45.2" x2="1456.8" y2="580.8"/>
<line x1="1518.4" y1="45.2" x2="1518.4" y2="580.8"/>
<line x1="1580.1" y1="45.2" x2="1580.1" y2="580.8"/>
<line x1="1641.7" y1="45.2" x2="1641.7" y2="580.8"/>
<line x1="1703.4" y1="45.2" x2="1703.4" y2="580.8"/>
<line x1="1765.0" y1="45.2" x2="1765.0" y2="580.8"/>
<line x1="1826.7" y1="45.2" x2="1826.7" y2="580.8"/>
<line x1="1443.0" y1="76.3" x2="1861.0" y2="76.3"/>
<line x1="1443.0" y1="128.9" x2="1861.0" y2="128.9"/>
<line x1="1443.0" y1="181.5" x2="1861.0" y2="181.5"/>
<line x1="1443.0" y1="234.1" x2="1861.0" y2="234.1"/>
<line x1="1443.0" y1="286.7" x2="1861.0" y2="286.7"/>
<line x1="1443.0" y1="339.3" x2="1861.0" y2="339.3"/>
<line x1="1443.0" y1="391.9" x2="1861.0" y2="391.9"/>
<line x1="1443.0" y1="444.5" x2="1861.0" y2="444.5"/>
<line x1="1443.0" y1="497.1" x2="1861.0" y2="497.1"/>
<line x1="1443.0" y1="549.7" x2="1861.0" y2="549.7"/>
</g>
<circle cx="1842.1" cy="76.3" r="19.8" fill="#ff0000"/>
<circle cx="1765.0" cy="128.9" r="18.2" fill="#ff0000"/>
<circle cx="1728.6" cy="181.5" r="17.5" fill="#ff0000"/>
<circle cx="1690.4" cy="234.1" r="17.5" fill="#ff0000"/>
<circle cx="1614.6" cy="286.7" r="14.6" fill="#ff0000"/>
<circle cx="1537.5" cy="339.3" r="13.2" fill="#8000d0"/>
<circle cx="1499.9" cy="391.9" r="11.5" fill="#0000ff"/>
<circle cx="1499.9" cy="444.5" r="11.5" fill="#b400a8"/>
<circle cx="1462.3" cy="497.1" r="7.2" fill="#8000d4"/>
<circle cx="1462.3" cy="549.7" r="7.2" fill="#8000d4"/>
<rect x="1443.0" y="45.2" width="418.0" height="535.5999999999999" fill="none" stroke="#333" stroke-width="2"/>
<g stroke="#333" stroke-width="2">
<line x1="1437.2" y1="76.3" x2="1443.0" y2="76.3"/>
<line x1="1437.2" y1="128.9" x2="1443.0" y2="128.9"/>
<line x1="1437.2" y1="181.5" x2="1443.0" y2="181.5"/>
<line x1="1437.2" y1="234.1" x2="1443.0" y2="234.1"/>
<line x1="1437.2" y1="286.7" x2="1443.0" y2="286.7"/>
<line x1="1437.2" y1="339.3" x2="1443.0" y2="339.3"/>
<line x1="1437.2" y1="391.9" x2="1443.0" y2="391.9"/>
<line x1="1437.2" y1="444.5" x2="1443.0" y2="444.5"/>
<line x1="1437.2" y1="497.1" x2="1443.0" y2="497.1"/>
<line x1="1437.2" y1="549.7" x2="1443.0" y2="549.7"/>
<line x1="1518.4" y1="580.8" x2="1518.4" y2="586.3"/>
<line x1="1641.7" y1="580.8" x2="1641.7" y2="586.3"/>
<line x1="1765.0" y1="580.8" x2="1765.0" y2="586.3"/>
</g>
<text transform="translate(1432.00,90.10) scale(1.0000,1)" font-size="31.2" text-anchor="end" fill="#000" font-weight="normal" >Complement and coagulation cascades</text>
<text transform="translate(1432.00,141.90) scale(0.9800,1)" font-size="31.2" text-anchor="end" fill="#000" font-weight="normal" >Neutrophil extracellular trap formation</text>
<text transform="translate(1432.00,194.50) scale(1.0090,1)" font-size="31.2" text-anchor="end" fill="#000" font-weight="normal" >Tuberculosis</text>
<text transform="translate(1432.00,246.90) scale(1.0160,1)" font-size="31.2" text-anchor="end" fill="#000" font-weight="normal" >Phagosome</text>
<text transform="translate(1432.00,299.30) scale(1.0000,1)" font-size="31.2" text-anchor="end" fill="#000" font-weight="normal" >Staphylococcus aureus infection</text>
<text transform="translate(1432.00,351.50) scale(1.0000,1)" font-size="31.2" text-anchor="end" fill="#000" font-weight="normal" >Systemic lupus erythematosus</text>
<text transform="translate(1432.00,404.40) scale(0.9880,1)" font-size="31.2" text-anchor="end" fill="#000" font-weight="normal" >Leukocyte transendothelial migration</text>
<text transform="translate(1432.00,456.70) scale(1.0000,1)" font-size="31.2" text-anchor="end" fill="#000" font-weight="normal" >Fc gamma R-mediated phagocytosis</text>
<text transform="translate(1432.00,509.30) scale(0.9890,1)" font-size="31.2" text-anchor="end" fill="#000" font-weight="normal" >Bacterial invasion of epithelial cells</text>
<text transform="translate(1432.00,561.50) scale(1.0000,1)" font-size="31.2" text-anchor="end" fill="#000" font-weight="normal" >Antigen processing and presentation</text>
<text transform="translate(1517.00,617.50) scale(1.0000,1)" font-size="31.8" text-anchor="middle" fill="#000" font-weight="normal" >0.04</text>
<text transform="translate(1640.30,617.50) scale(1.0000,1)" font-size="31.8" text-anchor="middle" fill="#000" font-weight="normal" >0.06</text>
<text transform="translate(1763.60,617.50) scale(1.0000,1)" font-size="31.8" text-anchor="middle" fill="#000" font-weight="normal" >0.08</text>
<text transform="translate(1652.30,658.50) scale(1.0000,1)" font-size="37.8" text-anchor="middle" fill="#000" font-weight="normal" >GeneRatio</text>
<text transform="translate(1896.20,70.90) scale(1.0000,1)" font-size="22" text-anchor="start" fill="#000" font-weight="normal" >p.adjust</text>
<text transform="translate(1944.30,127.50) scale(0.9750,1)" font-size="19" text-anchor="start" fill="#000" font-weight="normal" >0.025</text>
<text transform="translate(1944.30,164.30) scale(0.9750,1)" font-size="19" text-anchor="start" fill="#000" font-weight="normal" >0.050</text>
<text transform="translate(1944.30,199.10) scale(0.9750,1)" font-size="19" text-anchor="start" fill="#000" font-weight="normal" >0.075</text>
<text transform="translate(1944.30,234.20) scale(0.9750,1)" font-size="19" text-anchor="start" fill="#000" font-weight="normal" >0.100</text>
<text transform="translate(1898.30,317.90) scale(1.0000,1)" font-size="20" text-anchor="start" fill="#000" font-weight="normal" >Count</text>
<text transform="translate(1949.70,351.90) scale(1.0000,1)" font-size="17" text-anchor="start" fill="#000" font-weight="normal" >5.0</text>
<text transform="translate(1950.50,380.50) scale(1.0000,1)" font-size="17" text-anchor="start" fill="#000" font-weight="normal" >10.0</text>
<text transform="translate(1950.50,414.70) scale(1.0000,1)" font-size="17" text-anchor="start" fill="#000" font-weight="normal" >15.0</text>
<defs><linearGradient id="cbg" x1="0" y1="0" x2="0" y2="1"><stop offset="0.0" stop-color="#ff0000"/><stop offset="0.125" stop-color="#f40031"/><stop offset="0.25" stop-color="#e80050"/><stop offset="0.375" stop-color="#da006c"/><stop offset="0.5" stop-color="#ca0088"/><stop offset="0.625" stop-color="#b500a5"/><stop offset="0.75" stop-color="#9a00c3"/><stop offset="0.875" stop-color="#7300e0"/><stop offset="1.0" stop-color="#0000ff"/></linearGradient></defs>
<rect x="1898.5" y="85" width="34.700000000000045" height="174.10000000000002" fill="url(#cbg)"/>
<g stroke="#fff" stroke-width="1.5">
<line x1="1898.5" y1="118.8" x2="1905.0" y2="118.8"/><line x1="1926.7" y1="118.8" x2="1933.2" y2="118.8"/>
<line x1="1898.5" y1="155.6" x2="1905.0" y2="155.6"/><line x1="1926.7" y1="155.6" x2="1933.2" y2="155.6"/>
<line x1="1898.5" y1="190.4" x2="1905.0" y2="190.4"/><line x1="1926.7" y1="190.4" x2="1933.2" y2="190.4"/>
<line x1="1898.5" y1="225.5" x2="1905.0" y2="225.5"/><line x1="1926.7" y1="225.5" x2="1933.2" y2="225.5"/>
</g>
<circle cx="1919.3" cy="344.1" r="6.5" fill="#000"/>
<circle cx="1919.5" cy="372.7" r="13.95" fill="#000"/>
<circle cx="1919.5" cy="406.7" r="16.55" fill="#000"/>
</svg></body></html>
